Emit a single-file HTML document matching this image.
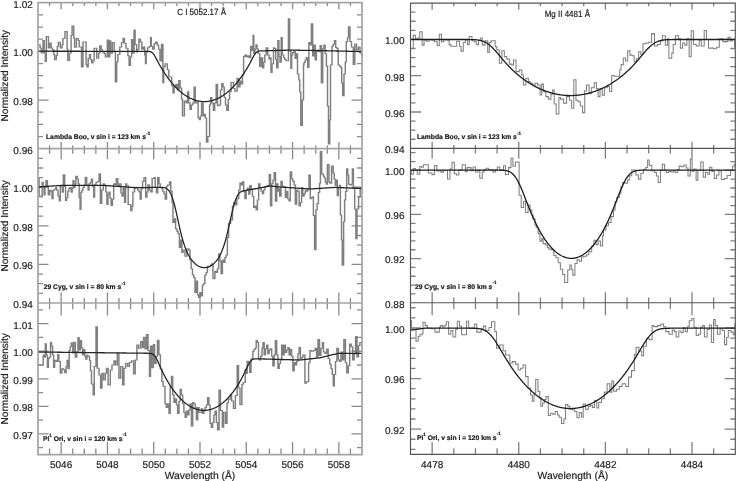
<!DOCTYPE html>
<html><head><meta charset="utf-8"><style>
html,body{margin:0;padding:0;background:#fff;overflow:hidden;}
svg{display:block;will-change:transform;}
text{font-family:"Liberation Sans",sans-serif;fill:#222;text-rendering:geometricPrecision;stroke:#222;stroke-width:0.18px;}
.yl{font-size:10px;text-anchor:end;}
.xl{font-size:10px;text-anchor:middle;}
.xt{font-size:10.3px;text-anchor:middle;}
.yt{font-size:10.1px;text-anchor:middle;}
.ti{font-size:8px;text-anchor:middle;fill:#1a1a1a;}
.sl{font-size:6.75px;font-weight:bold;fill:#111;}
.sup{font-size:4.6px;}
.tL{stroke:#8a8a8a;stroke-width:1.3;fill:none;}
.tR{stroke:#808080;stroke-width:1.3;fill:none;}
.frL{stroke:#a4a4a4;stroke-width:1.7;fill:none;}
.frR{stroke:#555;stroke-width:1.15;fill:none;}
.dL{stroke:#7f7f7f;stroke-width:1.0;fill:none;}
.dR{stroke:#808080;stroke-width:1.05;fill:none;}
.fL{stroke:#262626;stroke-width:1.3;fill:none;stroke-linejoin:round;}
.fR{stroke:#1e1e1e;stroke-width:1.3;fill:none;stroke-linejoin:round;}
</style></head><body>
<svg width="736" height="481" viewBox="0 0 736 481">
<path class="tL" d="M38.0 136.53h5.0M362.0 136.53h-5.0M38.0 124.37h5.0M362.0 124.37h-5.0M38.0 112.20h5.0M362.0 112.20h-5.0M38.0 100.03h10.5M362.0 100.03h-10.5M38.0 87.87h5.0M362.0 87.87h-5.0M38.0 75.70h5.0M362.0 75.70h-5.0M38.0 63.53h5.0M362.0 63.53h-5.0M38.0 51.37h10.5M362.0 51.37h-10.5M38.0 39.20h5.0M362.0 39.20h-5.0M38.0 27.03h5.0M362.0 27.03h-5.0M38.0 14.87h5.0M362.0 14.87h-5.0M49.57 2.7v3.2M49.57 148.7v-3.2M61.14 2.7v6.6M61.14 148.7v-6.6M72.71 2.7v3.2M72.71 148.7v-3.2M84.29 2.7v3.2M84.29 148.7v-3.2M95.86 2.7v3.2M95.86 148.7v-3.2M107.43 2.7v6.6M107.43 148.7v-6.6M119.00 2.7v3.2M119.00 148.7v-3.2M130.57 2.7v3.2M130.57 148.7v-3.2M142.14 2.7v3.2M142.14 148.7v-3.2M153.71 2.7v6.6M153.71 148.7v-6.6M165.29 2.7v3.2M165.29 148.7v-3.2M176.86 2.7v3.2M176.86 148.7v-3.2M188.43 2.7v3.2M188.43 148.7v-3.2M200.00 2.7v6.6M200.00 148.7v-6.6M211.57 2.7v3.2M211.57 148.7v-3.2M223.14 2.7v3.2M223.14 148.7v-3.2M234.71 2.7v3.2M234.71 148.7v-3.2M246.29 2.7v6.6M246.29 148.7v-6.6M257.86 2.7v3.2M257.86 148.7v-3.2M269.43 2.7v3.2M269.43 148.7v-3.2M281.00 2.7v3.2M281.00 148.7v-3.2M292.57 2.7v6.6M292.57 148.7v-6.6M304.14 2.7v3.2M304.14 148.7v-3.2M315.71 2.7v3.2M315.71 148.7v-3.2M327.29 2.7v3.2M327.29 148.7v-3.2M338.86 2.7v6.6M338.86 148.7v-6.6M350.43 2.7v3.2M350.43 148.7v-3.2M38.0 293.36h5.0M362.0 293.36h-5.0M38.0 283.71h5.0M362.0 283.71h-5.0M38.0 274.07h5.0M362.0 274.07h-5.0M38.0 264.43h10.5M362.0 264.43h-10.5M38.0 254.78h5.0M362.0 254.78h-5.0M38.0 245.14h5.0M362.0 245.14h-5.0M38.0 235.49h5.0M362.0 235.49h-5.0M38.0 225.85h10.5M362.0 225.85h-10.5M38.0 216.21h5.0M362.0 216.21h-5.0M38.0 206.56h5.0M362.0 206.56h-5.0M38.0 196.92h5.0M362.0 196.92h-5.0M38.0 187.27h10.5M362.0 187.27h-10.5M38.0 177.63h5.0M362.0 177.63h-5.0M38.0 167.99h5.0M362.0 167.99h-5.0M38.0 158.34h5.0M362.0 158.34h-5.0M49.57 148.7v5.1M49.57 303.0v-5.1M61.14 148.7v10.5M61.14 303.0v-10.5M72.71 148.7v5.1M72.71 303.0v-5.1M84.29 148.7v5.1M84.29 303.0v-5.1M95.86 148.7v5.1M95.86 303.0v-5.1M107.43 148.7v10.5M107.43 303.0v-10.5M119.00 148.7v5.1M119.00 303.0v-5.1M130.57 148.7v5.1M130.57 303.0v-5.1M142.14 148.7v5.1M142.14 303.0v-5.1M153.71 148.7v10.5M153.71 303.0v-10.5M165.29 148.7v5.1M165.29 303.0v-5.1M176.86 148.7v5.1M176.86 303.0v-5.1M188.43 148.7v5.1M188.43 303.0v-5.1M200.00 148.7v10.5M200.00 303.0v-10.5M211.57 148.7v5.1M211.57 303.0v-5.1M223.14 148.7v5.1M223.14 303.0v-5.1M234.71 148.7v5.1M234.71 303.0v-5.1M246.29 148.7v10.5M246.29 303.0v-10.5M257.86 148.7v5.1M257.86 303.0v-5.1M269.43 148.7v5.1M269.43 303.0v-5.1M281.00 148.7v5.1M281.00 303.0v-5.1M292.57 148.7v10.5M292.57 303.0v-10.5M304.14 148.7v5.1M304.14 303.0v-5.1M315.71 148.7v5.1M315.71 303.0v-5.1M327.29 148.7v5.1M327.29 303.0v-5.1M338.86 148.7v10.5M338.86 303.0v-10.5M350.43 148.7v5.1M350.43 303.0v-5.1M38.0 447.71h5.0M362.0 447.71h-5.0M38.0 433.93h10.5M362.0 433.93h-10.5M38.0 420.15h5.0M362.0 420.15h-5.0M38.0 406.36h10.5M362.0 406.36h-10.5M38.0 392.58h5.0M362.0 392.58h-5.0M38.0 378.80h10.5M362.0 378.80h-10.5M38.0 365.02h5.0M362.0 365.02h-5.0M38.0 351.24h10.5M362.0 351.24h-10.5M38.0 337.45h5.0M362.0 337.45h-5.0M38.0 323.67h10.5M362.0 323.67h-10.5M38.0 309.89h5.0M362.0 309.89h-5.0M49.57 303.0v6.2M49.57 454.6v-6.2M61.14 303.0v12.5M61.14 454.6v-12.5M72.71 303.0v6.2M72.71 454.6v-6.2M84.29 303.0v6.2M84.29 454.6v-6.2M95.86 303.0v6.2M95.86 454.6v-6.2M107.43 303.0v12.5M107.43 454.6v-12.5M119.00 303.0v6.2M119.00 454.6v-6.2M130.57 303.0v6.2M130.57 454.6v-6.2M142.14 303.0v6.2M142.14 454.6v-6.2M153.71 303.0v12.5M153.71 454.6v-12.5M165.29 303.0v6.2M165.29 454.6v-6.2M176.86 303.0v6.2M176.86 454.6v-6.2M188.43 303.0v6.2M188.43 454.6v-6.2M200.00 303.0v12.5M200.00 454.6v-12.5M211.57 303.0v6.2M211.57 454.6v-6.2M223.14 303.0v6.2M223.14 454.6v-6.2M234.71 303.0v6.2M234.71 454.6v-6.2M246.29 303.0v12.5M246.29 454.6v-12.5M257.86 303.0v6.2M257.86 454.6v-6.2M269.43 303.0v6.2M269.43 454.6v-6.2M281.00 303.0v6.2M281.00 454.6v-6.2M292.57 303.0v12.5M292.57 454.6v-12.5M304.14 303.0v6.2M304.14 454.6v-6.2M315.71 303.0v6.2M315.71 454.6v-6.2M327.29 303.0v6.2M327.29 454.6v-6.2M338.86 303.0v12.5M338.86 454.6v-12.5M350.43 303.0v6.2M350.43 454.6v-6.2"/>
<path class="tR" d="M410.5 139.23h5.0M735.3 139.23h-5.0M410.5 130.15h5.0M735.3 130.15h-5.0M410.5 121.08h5.0M735.3 121.08h-5.0M410.5 112.00h10.5M735.3 112.00h-10.5M410.5 102.93h5.0M735.3 102.93h-5.0M410.5 93.85h5.0M735.3 93.85h-5.0M410.5 84.78h5.0M735.3 84.78h-5.0M410.5 75.70h10.5M735.3 75.70h-10.5M410.5 66.62h5.0M735.3 66.62h-5.0M410.5 57.55h5.0M735.3 57.55h-5.0M410.5 48.48h5.0M735.3 48.48h-5.0M410.5 39.40h10.5M735.3 39.40h-10.5M410.5 30.33h5.0M735.3 30.33h-5.0M410.5 21.25h5.0M735.3 21.25h-5.0M410.5 12.18h5.0M735.3 12.18h-5.0M432.15 3.1v6.6M432.15 148.3v-6.6M453.81 3.1v3.2M453.81 148.3v-3.2M475.46 3.1v3.2M475.46 148.3v-3.2M497.11 3.1v3.2M497.11 148.3v-3.2M518.77 3.1v6.6M518.77 148.3v-6.6M540.42 3.1v3.2M540.42 148.3v-3.2M562.07 3.1v3.2M562.07 148.3v-3.2M583.73 3.1v3.2M583.73 148.3v-3.2M605.38 3.1v6.6M605.38 148.3v-6.6M627.03 3.1v3.2M627.03 148.3v-3.2M648.69 3.1v3.2M648.69 148.3v-3.2M670.34 3.1v3.2M670.34 148.3v-3.2M691.99 3.1v6.6M691.99 148.3v-6.6M713.65 3.1v3.2M713.65 148.3v-3.2M410.5 293.88h5.0M735.3 293.88h-5.0M410.5 285.05h5.0M735.3 285.05h-5.0M410.5 276.23h5.0M735.3 276.23h-5.0M410.5 267.41h5.0M735.3 267.41h-5.0M410.5 258.59h10.5M735.3 258.59h-10.5M410.5 249.76h5.0M735.3 249.76h-5.0M410.5 240.94h5.0M735.3 240.94h-5.0M410.5 232.12h5.0M735.3 232.12h-5.0M410.5 223.29h5.0M735.3 223.29h-5.0M410.5 214.47h10.5M735.3 214.47h-10.5M410.5 205.65h5.0M735.3 205.65h-5.0M410.5 196.83h5.0M735.3 196.83h-5.0M410.5 188.00h5.0M735.3 188.00h-5.0M410.5 179.18h5.0M735.3 179.18h-5.0M410.5 170.36h10.5M735.3 170.36h-10.5M410.5 161.53h5.0M735.3 161.53h-5.0M410.5 152.71h5.0M735.3 152.71h-5.0M432.15 148.3v10.5M432.15 302.7v-10.5M453.81 148.3v5.1M453.81 302.7v-5.1M475.46 148.3v5.1M475.46 302.7v-5.1M497.11 148.3v5.1M497.11 302.7v-5.1M518.77 148.3v10.5M518.77 302.7v-10.5M540.42 148.3v5.1M540.42 302.7v-5.1M562.07 148.3v5.1M562.07 302.7v-5.1M583.73 148.3v5.1M583.73 302.7v-5.1M605.38 148.3v10.5M605.38 302.7v-10.5M627.03 148.3v5.1M627.03 302.7v-5.1M648.69 148.3v5.1M648.69 302.7v-5.1M670.34 148.3v5.1M670.34 302.7v-5.1M691.99 148.3v10.5M691.99 302.7v-10.5M713.65 148.3v5.1M713.65 302.7v-5.1M410.5 449.34h5.0M735.3 449.34h-5.0M410.5 439.23h5.0M735.3 439.23h-5.0M410.5 429.12h10.5M735.3 429.12h-10.5M410.5 419.00h5.0M735.3 419.00h-5.0M410.5 408.89h5.0M735.3 408.89h-5.0M410.5 398.78h5.0M735.3 398.78h-5.0M410.5 388.66h5.0M735.3 388.66h-5.0M410.5 378.55h10.5M735.3 378.55h-10.5M410.5 368.44h5.0M735.3 368.44h-5.0M410.5 358.32h5.0M735.3 358.32h-5.0M410.5 348.21h5.0M735.3 348.21h-5.0M410.5 338.10h5.0M735.3 338.10h-5.0M410.5 327.98h10.5M735.3 327.98h-10.5M410.5 317.87h5.0M735.3 317.87h-5.0M410.5 307.76h5.0M735.3 307.76h-5.0M432.15 302.7v12.5M432.15 454.4v-12.5M453.81 302.7v6.2M453.81 454.4v-6.2M475.46 302.7v6.2M475.46 454.4v-6.2M497.11 302.7v6.2M497.11 454.4v-6.2M518.77 302.7v12.5M518.77 454.4v-12.5M540.42 302.7v6.2M540.42 454.4v-6.2M562.07 302.7v6.2M562.07 454.4v-6.2M583.73 302.7v6.2M583.73 454.4v-6.2M605.38 302.7v12.5M605.38 454.4v-12.5M627.03 302.7v6.2M627.03 454.4v-6.2M648.69 302.7v6.2M648.69 454.4v-6.2M670.34 302.7v6.2M670.34 454.4v-6.2M691.99 302.7v12.5M691.99 454.4v-12.5M713.65 302.7v6.2M713.65 454.4v-6.2"/>
<polyline transform="scale(1.45,1)" points="26.21,44.8 27.66,44.8 27.66,48.1 28.48,48.1 28.48,53.1 29.66,53.1 29.66,40.6 30.48,40.6 30.48,53.1 31.24,53.1 31.24,61.4 31.93,61.4 31.93,36.5 33.38,36.5 33.38,48.1 34.21,48.1 34.21,43.1 35.24,43.1 35.24,48.1 36.21,48.1 36.21,49.8 37.10,49.8 37.10,54.8 37.66,54.8 37.66,59.7 38.83,59.7 38.83,55.6 39.52,55.6 39.52,46.4 40.28,46.4 40.28,42.3 41.59,42.3 41.59,48.1 42.83,48.1 42.83,44.8 43.38,44.8 43.38,38.5 44.83,38.5 44.83,31.5 46.28,31.5 46.28,48.9 46.76,48.9 46.76,60.6 47.86,60.6 47.86,53.1 49.03,53.1 49.03,35.6 49.72,35.6 49.72,26.1 50.83,26.1 50.83,38.1 51.45,38.1 51.45,47.3 52.69,47.3 52.69,38.5 54.00,38.5 54.00,40.6 54.62,40.6 54.62,46.9 56.21,46.9 56.21,66.9 57.24,66.9 57.24,42.0 59.38,42.0 59.38,64.4 60.00,64.4 60.00,66.9 60.83,66.9 60.83,58.2 61.72,58.2 61.72,54.4 62.41,54.4 62.41,59.4 63.24,59.4 63.24,63.1 64.14,63.1 64.14,60.7 64.97,60.7 64.97,48.2 66.69,48.2 66.69,58.2 68.00,58.2 68.00,53.2 68.83,53.2 68.83,45.7 69.72,45.7 69.72,49.4 70.55,49.4 70.55,51.9 71.86,51.9 71.86,53.8 72.69,53.8 72.69,56.9 74.00,56.9 74.00,40.1 74.83,40.1 74.83,56.9 75.72,56.9 75.72,40.7 76.34,40.7 76.34,53.2 77.45,53.2 77.45,42.6 78.76,42.6 78.76,51.9 79.59,51.9 79.59,81.9 80.48,81.9 80.48,61.9 81.31,61.9 81.31,54.4 82.62,54.4 82.62,46.9 83.86,46.9 83.86,42.6 84.90,42.6 84.90,38.2 85.79,38.2 85.79,43.2 86.90,43.2 86.90,48.2 88.21,48.2 88.21,55.7 89.03,55.7 89.03,65.6 89.93,65.6 89.93,56.9 90.76,56.9 90.76,39.5 91.66,39.5 91.66,53.2 92.48,53.2 92.48,30.1 93.17,30.1 93.17,44.4 94.21,44.4 94.21,51.9 94.83,51.9 94.83,49.3 95.79,49.3 95.79,39.1 96.83,39.1 96.83,42.0 97.79,42.0 97.79,49.3 98.83,49.3 98.83,47.1 99.79,47.1 99.79,55.1 100.34,55.1 100.34,63.8 100.83,63.8 100.83,52.2 101.79,52.2 101.79,47.8 102.83,47.8 102.83,46.4 103.86,46.4 103.86,37.6 104.34,37.6 104.34,46.4 105.31,46.4 105.31,49.3 106.34,49.3 106.34,43.5 107.38,43.5 107.38,42.0 108.34,42.0 108.34,44.9 109.38,44.9 109.38,49.3 110.34,49.3 110.34,60.9 111.38,60.9 111.38,44.2 112.34,44.2 112.34,82.8 112.90,82.8 112.90,66.8 113.86,66.8 113.86,63.8 115.38,63.8 115.38,69.7 116.41,69.7 116.41,77.0 118.41,77.0 118.41,85.7 119.38,85.7 119.38,93.0 120.07,93.0 120.07,85.7 120.90,85.7 120.90,87.1 121.38,87.1 121.38,84.3 122.41,84.3 122.41,89.9 123.31,89.9 123.31,80.6 124.21,80.6 124.21,88.0 125.24,88.0 125.24,99.3 125.86,99.3 125.86,116.1 127.17,116.1 127.17,101.1 128.48,101.1 128.48,103.0 129.38,103.0 129.38,91.8 130.14,91.8 130.14,103.0 131.03,103.0 131.03,109.5 131.93,109.5 131.93,104.9 132.97,104.9 132.97,103.0 133.86,103.0 133.86,87.1 134.69,87.1 134.69,103.0 135.59,103.0 135.59,102.1 136.62,102.1 136.62,117.9 137.52,117.9 137.52,119.8 138.14,119.8 138.14,116.1 139.03,116.1 139.03,103.0 140.07,103.0 140.07,116.1 140.69,116.1 140.69,114.2 141.59,114.2 141.59,117.9 142.41,117.9 142.41,142.2 143.31,142.2 143.31,136.6 144.55,136.6 144.55,104.9 145.24,104.9 145.24,97.4 146.14,97.4 146.14,103.0 147.17,103.0 147.17,110.5 148.07,110.5 148.07,103.0 149.10,103.0 149.10,84.3 150.00,84.3 150.00,105.8 151.03,105.8 151.03,104.9 152.07,104.9 152.07,89.9 152.97,89.9 152.97,83.4 153.86,83.4 153.86,87.1 154.62,87.1 154.62,97.4 155.52,97.4 155.52,104.9 156.41,104.9 156.41,110.5 157.45,110.5 157.45,99.3 158.34,99.3 158.34,91.8 159.38,91.8 159.38,82.4 160.00,82.4 160.00,82.6 161.03,82.6 161.03,88.4 162.00,88.4 162.00,91.3 163.52,91.3 163.52,78.2 164.55,78.2 164.55,87.0 165.52,87.0 165.52,81.1 166.21,81.1 166.21,84.0 167.24,84.0 167.24,75.3 168.00,75.3 168.00,56.4 168.83,56.4 168.83,54.9 169.86,54.9 169.86,57.1 170.83,57.1 170.83,55.7 171.86,55.7 171.86,57.8 172.83,57.8 172.83,46.2 173.59,46.2 173.59,50.6 174.55,50.6 174.55,35.3 175.03,35.3 175.03,53.5 175.86,53.5 175.86,49.1 176.55,49.1 176.55,44.7 177.24,44.7 177.24,49.1 178.07,49.1 178.07,53.5 179.10,53.5 179.10,66.6 180.07,66.6 180.07,57.8 181.10,57.8 181.10,68.0 181.86,68.0 181.86,62.2 182.62,62.2 182.62,54.9 183.59,54.9 183.59,47.7 184.62,47.7 184.62,54.9 185.59,54.9 185.59,59.3 186.28,59.3 186.28,57.8 186.90,57.8 186.90,72.4 187.59,72.4 187.59,63.7 188.62,63.7 188.62,47.7 189.31,47.7 189.31,48.4 190.14,48.4 190.14,59.3 190.83,59.3 190.83,68.0 191.66,68.0 191.66,40.4 192.34,40.4 192.34,56.4 193.10,56.4 193.10,62.2 193.93,62.2 193.93,37.5 194.62,37.5 194.62,54.9 195.66,54.9 195.66,57.8 196.34,57.8 196.34,59.3 197.17,59.3 197.17,60.8 198.90,60.8 198.90,18.7 199.72,18.7 199.72,51.2 200.62,51.2 200.62,68.6 201.17,68.6 201.17,54.9 201.86,54.9 201.86,52.4 202.76,52.4 202.76,51.2 203.59,51.2 203.59,58.6 204.48,58.6 204.48,53.7 205.17,53.7 205.17,74.0 206.07,74.0 206.07,80.0 206.76,80.0 206.76,92.0 207.45,92.0 207.45,125.5 208.48,125.5 208.48,100.0 209.31,100.0 209.31,65.0 209.66,65.0 209.66,62.4 210.48,62.4 210.48,59.9 211.31,59.9 211.31,57.4 212.21,57.4 212.21,67.4 213.03,67.4 213.03,42.4 213.93,42.4 213.93,44.9 214.76,44.9 214.76,23.7 215.66,23.7 215.66,56.1 216.48,56.1 216.48,44.9 217.38,44.9 217.38,59.9 218.21,59.9 218.21,51.2 219.10,51.2 219.10,49.9 219.93,49.9 219.93,51.8 220.83,51.8 220.83,45.5 221.66,45.5 221.66,83.0 222.55,83.0 222.55,48.7 223.38,48.7 223.38,44.9 224.21,44.9 224.21,53.7 225.10,53.7 225.10,66.1 225.86,66.1 225.86,106.0 226.55,106.0 226.55,144.0 227.38,144.0 227.38,120.0 227.93,120.0 227.93,65.0 228.97,65.0 228.97,46.2 229.86,46.2 229.86,44.3 230.69,44.3 230.69,40.6 231.52,40.6 231.52,47.4 232.41,47.4 232.41,48.7 233.24,48.7 233.24,64.9 234.14,64.9 234.14,66.1 234.97,66.1 234.97,67.4 235.66,67.4 235.66,83.0 236.34,83.0 236.34,95.7 237.24,95.7 237.24,74.0 238.14,74.0 238.14,62.0 238.83,62.0 238.83,41.6 239.66,41.6 239.66,38.0 240.34,38.0 240.34,26.8 241.38,26.8 241.38,41.6 242.41,41.6 242.41,47.0 243.66,47.0 243.66,64.6 244.69,64.6 244.69,44.0 245.86,44.0 245.86,49.7 247.10,49.7 247.10,47.0 248.28,47.0 248.28,53.0 249.31,53.0 249.31,55.0 249.66,55.0" class="dL"/>
<polyline points="38.0,51.20 38.5,51.20 39.0,51.20 39.5,51.20 40.0,51.20 40.5,51.20 41.0,51.21 41.5,51.21 42.0,51.21 42.5,51.21 43.0,51.21 43.5,51.21 44.0,51.21 44.5,51.21 45.0,51.21 45.5,51.21 46.0,51.21 46.5,51.22 47.0,51.22 47.5,51.22 48.0,51.22 48.5,51.22 49.0,51.22 49.5,51.22 50.0,51.22 50.5,51.22 51.0,51.22 51.5,51.22 52.0,51.23 52.5,51.23 53.0,51.23 53.5,51.23 54.0,51.23 54.5,51.23 55.0,51.23 55.5,51.23 56.0,51.23 56.5,51.23 57.0,51.23 57.5,51.23 58.0,51.24 58.5,51.24 59.0,51.24 59.5,51.24 60.0,51.24 60.5,51.24 61.0,51.24 61.5,51.24 62.0,51.24 62.5,51.24 63.0,51.24 63.5,51.25 64.0,51.25 64.5,51.25 65.0,51.25 65.5,51.25 66.0,51.25 66.5,51.25 67.0,51.25 67.5,51.25 68.0,51.25 68.5,51.25 69.0,51.26 69.5,51.26 70.0,51.26 70.5,51.26 71.0,51.26 71.5,51.26 72.0,51.26 72.5,51.26 73.0,51.26 73.5,51.26 74.0,51.26 74.5,51.27 75.0,51.27 75.5,51.27 76.0,51.27 76.5,51.27 77.0,51.27 77.5,51.27 78.0,51.27 78.5,51.27 79.0,51.27 79.5,51.27 80.0,51.27 80.5,51.28 81.0,51.28 81.5,51.28 82.0,51.28 82.5,51.28 83.0,51.28 83.5,51.28 84.0,51.28 84.5,51.28 85.0,51.28 85.5,51.28 86.0,51.29 86.5,51.29 87.0,51.29 87.5,51.29 88.0,51.29 88.5,51.29 89.0,51.29 89.5,51.29 90.0,51.29 90.5,51.29 91.0,51.29 91.5,51.30 92.0,51.30 92.5,51.30 93.0,51.30 93.5,51.30 94.0,51.30 94.5,51.30 95.0,51.30 95.5,51.30 96.0,51.30 96.5,51.30 97.0,51.31 97.5,51.31 98.0,51.31 98.5,51.31 99.0,51.31 99.5,51.31 100.0,51.31 100.5,51.31 101.0,51.31 101.5,51.31 102.0,51.31 102.5,51.32 103.0,51.32 103.5,51.32 104.0,51.32 104.5,51.32 105.0,51.32 105.5,51.32 106.0,51.32 106.5,51.32 107.0,51.32 107.5,51.32 108.0,51.33 108.5,51.33 109.0,51.33 109.5,51.33 110.0,51.33 110.5,51.33 111.0,51.33 111.5,51.33 112.0,51.33 112.5,51.33 113.0,51.33 113.5,51.33 114.0,51.34 114.5,51.34 115.0,51.34 115.5,51.34 116.0,51.34 116.5,51.34 117.0,51.34 117.5,51.34 118.0,51.34 118.5,51.34 119.0,51.34 119.5,51.35 120.0,51.35 120.5,51.35 121.0,51.35 121.5,51.35 122.0,51.35 122.5,51.35 123.0,51.35 123.5,51.35 124.0,51.35 124.5,51.35 125.0,51.36 125.5,51.36 126.0,51.36 126.5,51.36 127.0,51.36 127.5,51.36 128.0,51.36 128.5,51.36 129.0,51.36 129.5,51.36 130.0,51.36 130.5,51.37 131.0,51.37 131.5,51.37 132.0,51.37 132.5,51.37 133.0,51.37 133.5,51.37 134.0,51.37 134.5,51.37 135.0,51.37 135.5,51.37 136.0,51.38 136.5,51.38 137.0,51.38 137.5,51.38 138.0,51.38 138.5,51.38 139.0,51.38 139.5,51.38 140.0,51.38 140.5,51.38 141.0,51.38 141.5,51.38 142.0,51.39 142.5,51.39 143.0,51.39 143.5,51.39 144.0,51.39 144.5,51.39 145.0,51.39 145.5,51.39 146.0,51.39 146.5,51.40 147.0,51.40 147.5,51.40 148.0,51.41 148.5,51.43 149.0,51.46 149.5,51.50 150.0,51.58 150.5,51.69 151.0,51.86 151.5,52.10 152.0,52.43 152.5,52.84 153.0,53.36 153.5,53.98 154.0,54.70 154.5,55.49 155.0,56.35 155.5,57.26 156.0,58.20 156.5,59.16 157.0,60.12 157.5,61.08 158.0,62.03 158.5,62.97 159.0,63.89 159.5,64.79 160.0,65.68 160.5,66.55 161.0,67.41 161.5,68.25 162.0,69.08 162.5,69.89 163.0,70.69 163.5,71.48 164.0,72.25 164.5,73.01 165.0,73.76 165.5,74.50 166.0,75.23 166.5,75.94 167.0,76.64 167.5,77.34 168.0,78.02 168.5,78.69 169.0,79.34 169.5,79.99 170.0,80.63 170.5,81.25 171.0,81.87 171.5,82.48 172.0,83.07 172.5,83.66 173.0,84.23 173.5,84.79 174.0,85.35 174.5,85.89 175.0,86.43 175.5,86.95 176.0,87.47 176.5,87.97 177.0,88.47 177.5,88.95 178.0,89.43 178.5,89.90 179.0,90.35 179.5,90.80 180.0,91.24 180.5,91.67 181.0,92.09 181.5,92.50 182.0,92.90 182.5,93.29 183.0,93.67 183.5,94.04 184.0,94.41 184.5,94.76 185.0,95.11 185.5,95.44 186.0,95.77 186.5,96.09 187.0,96.40 187.5,96.70 188.0,96.99 188.5,97.27 189.0,97.55 189.5,97.81 190.0,98.07 190.5,98.31 191.0,98.55 191.5,98.78 192.0,99.00 192.5,99.21 193.0,99.41 193.5,99.60 194.0,99.79 194.5,99.96 195.0,100.13 195.5,100.29 196.0,100.44 196.5,100.58 197.0,100.71 197.5,100.83 198.0,100.94 198.5,101.05 199.0,101.14 199.5,101.23 200.0,101.31 200.5,101.38 201.0,101.44 201.5,101.49 202.0,101.54 202.5,101.57 203.0,101.60 203.5,101.62 204.0,101.63 204.5,101.63 205.0,101.62 205.5,101.60 206.0,101.57 206.5,101.54 207.0,101.50 207.5,101.44 208.0,101.38 208.5,101.31 209.0,101.23 209.5,101.15 210.0,101.05 210.5,100.95 211.0,100.83 211.5,100.71 212.0,100.58 212.5,100.44 213.0,100.29 213.5,100.13 214.0,99.97 214.5,99.79 215.0,99.61 215.5,99.42 216.0,99.21 216.5,99.00 217.0,98.79 217.5,98.56 218.0,98.32 218.5,98.07 219.0,97.82 219.5,97.56 220.0,97.28 220.5,97.00 221.0,96.71 221.5,96.41 222.0,96.10 222.5,95.78 223.0,95.46 223.5,95.12 224.0,94.78 224.5,94.42 225.0,94.06 225.5,93.69 226.0,93.30 226.5,92.91 227.0,92.51 227.5,92.10 228.0,91.68 228.5,91.26 229.0,90.82 229.5,90.37 230.0,89.92 230.5,89.45 231.0,88.97 231.5,88.49 232.0,87.99 232.5,87.49 233.0,86.98 233.5,86.45 234.0,85.92 234.5,85.37 235.0,84.82 235.5,84.26 236.0,83.68 236.5,83.10 237.0,82.50 237.5,81.90 238.0,81.29 238.5,80.66 239.0,80.02 239.5,79.38 240.0,78.72 240.5,78.05 241.0,77.37 241.5,76.68 242.0,75.98 242.5,75.27 243.0,74.54 243.5,73.81 244.0,73.06 244.5,72.30 245.0,71.53 245.5,70.74 246.0,69.94 246.5,69.13 247.0,68.30 247.5,67.46 248.0,66.61 248.5,65.74 249.0,64.86 249.5,63.96 250.0,63.04 250.5,62.11 251.0,61.16 251.5,60.20 252.0,59.24 252.5,58.27 253.0,57.32 253.5,56.39 254.0,55.51 254.5,54.69 255.0,53.94 255.5,53.27 256.0,52.70 256.5,52.23 257.0,51.86 257.5,51.57 258.0,51.36 258.5,51.21 259.0,51.11 259.5,51.04 260.0,51.00 260.5,50.96 261.0,50.94 261.5,50.92 262.0,50.90 262.5,50.89 263.0,50.87 263.5,50.86 264.0,50.84 264.5,50.83 265.0,50.81 265.5,50.80 266.0,50.79 266.5,50.77 267.0,50.76 267.5,50.74 268.0,50.73 268.5,50.71 269.0,50.70 269.5,50.69 270.0,50.67 270.5,50.66 271.0,50.64 271.5,50.63 272.0,50.61 272.5,50.60 273.0,50.59 273.5,50.57 274.0,50.56 274.5,50.54 275.0,50.53 275.5,50.51 276.0,50.50 276.5,50.49 277.0,50.47 277.5,50.46 278.0,50.44 278.5,50.43 279.0,50.41 279.5,50.40 280.0,50.39 280.5,50.37 281.0,50.36 281.5,50.34 282.0,50.33 282.5,50.31 283.0,50.30 283.5,50.29 284.0,50.27 284.5,50.26 285.0,50.24 285.5,50.23 286.0,50.21 286.5,50.20 287.0,50.19 287.5,50.17 288.0,50.16 288.5,50.14 289.0,50.13 289.5,50.11 290.0,50.10 290.5,50.11 291.0,50.12 291.5,50.13 292.0,50.13 292.5,50.14 293.0,50.15 293.5,50.16 294.0,50.17 294.5,50.18 295.0,50.18 295.5,50.19 296.0,50.20 296.5,50.21 297.0,50.22 297.5,50.23 298.0,50.23 298.5,50.24 299.0,50.25 299.5,50.26 300.0,50.27 300.5,50.28 301.0,50.28 301.5,50.29 302.0,50.30 302.5,50.31 303.0,50.32 303.5,50.33 304.0,50.33 304.5,50.34 305.0,50.35 305.5,50.36 306.0,50.37 306.5,50.38 307.0,50.38 307.5,50.39 308.0,50.40 308.5,50.41 309.0,50.42 309.5,50.43 310.0,50.43 310.5,50.44 311.0,50.45 311.5,50.46 312.0,50.47 312.5,50.48 313.0,50.48 313.5,50.49 314.0,50.50 314.5,50.51 315.0,50.52 315.5,50.53 316.0,50.53 316.5,50.54 317.0,50.55 317.5,50.56 318.0,50.57 318.5,50.58 319.0,50.58 319.5,50.59 320.0,50.60 320.5,50.61 321.0,50.62 321.5,50.64 322.0,50.65 322.5,50.66 323.0,50.67 323.5,50.68 324.0,50.70 324.5,50.71 325.0,50.72 325.5,50.73 326.0,50.74 326.5,50.75 327.0,50.77 327.5,50.78 328.0,50.79 328.5,50.80 329.0,50.81 329.5,50.83 330.0,50.84 330.5,50.85 331.0,50.86 331.5,50.87 332.0,50.89 332.5,50.90 333.0,50.91 333.5,50.92 334.0,50.93 334.5,50.95 335.0,50.96 335.5,50.97 336.0,50.98 336.5,50.99 337.0,51.00 337.5,51.02 338.0,51.03 338.5,51.04 339.0,51.05 339.5,51.06 340.0,51.08 340.5,51.09 341.0,51.10 341.5,51.11 342.0,51.12 342.5,51.14 343.0,51.15 343.5,51.16 344.0,51.17 344.5,51.18 345.0,51.20 345.5,51.21 346.0,51.22 346.5,51.23 347.0,51.24 347.5,51.25 348.0,51.27 348.5,51.28 349.0,51.29 349.5,51.30 350.0,51.31 350.5,51.33 351.0,51.34 351.5,51.35 352.0,51.36 352.5,51.37 353.0,51.39 353.5,51.40 354.0,51.41 354.5,51.42 355.0,51.43 355.5,51.45 356.0,51.46 356.5,51.47 357.0,51.48 357.5,51.49 358.0,51.50 358.5,51.52 359.0,51.53 359.5,51.54 360.0,51.55 360.5,51.56 361.0,51.58 361.5,51.59 361.9,51.60" class="fL"/>
<polyline transform="scale(1.45,1)" points="26.21,178.1 26.97,178.1 26.97,195.9 29.10,195.9 29.10,182.3 29.72,182.3 29.72,187.5 30.41,187.5 30.41,195.0 31.03,195.0 31.03,187.5 31.72,187.5 31.72,180.4 32.69,180.4 32.69,186.5 33.31,186.5 33.31,195.0 34.28,195.0 34.28,190.3 35.24,190.3 35.24,191.2 35.86,191.2 35.86,198.7 36.55,198.7 36.55,190.3 37.52,190.3 37.52,189.3 38.48,189.3 38.48,187.5 39.10,187.5 39.10,190.3 40.07,190.3 40.07,195.9 40.90,195.9 40.90,201.0 41.59,201.0 41.59,186.5 42.97,186.5 42.97,192.2 43.66,192.2 43.66,174.8 44.62,174.8 44.62,186.5 45.24,186.5 45.24,200.6 45.93,200.6 45.93,197.8 46.76,197.8 46.76,191.2 47.52,191.2 47.52,188.4 48.14,188.4 48.14,187.5 49.10,187.5 49.10,192.2 49.79,192.2 49.79,188.4 50.41,188.4 50.41,180.4 51.03,180.4 51.03,187.5 51.72,187.5 51.72,183.7 52.34,183.7 52.34,176.2 53.31,176.2 53.31,179.0 54.00,179.0 54.00,183.7 54.62,183.7 54.62,197.8 55.24,197.8 55.24,209.6 55.79,209.6 55.79,192.2 56.55,192.2 56.55,190.3 57.17,190.3 57.17,187.5 58.14,187.5 58.14,185.1 58.83,185.1 58.83,177.2 59.79,177.2 59.79,185.6 60.76,185.6 60.76,190.3 61.38,190.3 61.38,183.7 62.34,183.7 62.34,182.3 63.03,182.3 63.03,179.0 63.79,179.0 63.79,186.5 64.62,186.5 64.62,197.3 65.24,197.3 65.24,184.7 66.21,184.7 66.21,182.3 67.31,182.3 67.31,181.6 68.34,181.6 68.34,173.8 69.24,173.8 69.24,203.5 70.14,203.5 70.14,190.0 71.24,190.0 71.24,183.7 72.07,183.7 72.07,185.8 73.03,185.8 73.03,192.0 73.72,192.0 73.72,204.5 74.48,204.5 74.48,194.1 75.17,194.1 75.17,192.0 75.86,192.0 75.86,198.3 76.62,198.3 76.62,205.5 77.52,205.5 77.52,199.3 78.41,199.3 78.41,183.7 79.10,183.7 79.10,184.8 80.21,184.8 80.21,178.5 81.24,178.5 81.24,185.8 82.34,185.8 82.34,183.7 83.38,183.7 83.38,193.1 84.14,193.1 84.14,196.2 84.97,196.2 84.97,187.9 85.93,187.9 85.93,202.4 86.62,202.4 86.62,183.7 87.38,183.7 87.38,185.8 88.41,185.8 88.41,204.5 89.31,204.5 89.31,204.5 90.21,204.5 90.21,210.7 90.97,210.7 90.97,206.6 91.66,206.6 91.66,192.0 92.76,192.0 92.76,188.4 93.45,188.4 93.45,187.3 94.90,187.3 94.90,190.0 95.93,190.0 95.93,192.0 96.69,192.0 96.69,199.3 97.38,199.3 97.38,188.9 98.34,188.9 98.34,181.6 99.31,181.6 99.31,177.5 100.48,177.5 100.48,197.2 101.31,197.2 101.31,192.0 102.07,192.0 102.07,184.8 102.90,184.8 102.90,190.0 103.86,190.0 103.86,192.0 104.90,192.0 104.90,178.5 106.21,178.5 106.21,177.5 107.03,177.5 107.03,187.5 107.93,187.5 107.93,193.0 108.76,193.0 108.76,177.5 109.66,177.5 109.66,183.7 110.48,183.7 110.48,187.5 111.38,187.5 111.38,188.7 112.21,188.7 112.21,191.2 113.10,191.2 113.10,193.7 113.93,193.7 113.93,199.3 114.83,199.3 114.83,186.2 115.66,186.2 115.66,185.0 116.97,185.0 116.97,181.8 117.79,181.8 117.79,191.2 118.69,191.2 118.69,202.4 119.31,202.4 119.31,222.4 120.28,222.4 120.28,218.7 121.10,218.7 121.10,228.7 122.00,228.7 122.00,231.2 122.83,231.2 122.83,233.7 123.72,233.7 123.72,247.4 124.55,247.4 124.55,240.0 125.45,240.0 125.45,252.5 126.28,252.5 126.28,250.0 127.59,250.0 127.59,256.2 128.90,256.2 128.90,248.7 130.14,248.7 130.14,250.0 131.03,250.0 131.03,260.0 131.86,260.0 131.86,268.7 132.76,268.7 132.76,274.9 133.59,274.9 133.59,277.4 134.48,277.4 134.48,292.4 135.31,292.4 135.31,281.1 136.21,281.1 136.21,294.9 137.03,294.9 137.03,297.4 137.93,297.4 137.93,292.4 138.76,292.4 138.76,296.1 139.59,296.1 139.59,284.9 140.48,284.9 140.48,283.6 141.31,283.6 141.31,274.9 142.21,274.9 142.21,272.4 143.03,272.4 143.03,266.2 144.07,266.2 144.07,266.8 145.17,266.8 145.17,265.0 146.07,265.0 146.07,263.7 146.90,263.7 146.90,278.7 148.21,278.7 148.21,271.2 149.10,271.2 149.10,272.4 149.93,272.4 149.93,268.7 150.83,268.7 150.83,253.7 151.66,253.7 151.66,261.2 152.48,261.2 152.48,273.7 153.38,273.7 153.38,260.0 154.21,260.0 154.21,262.4 155.10,262.4 155.10,257.5 155.93,257.5 155.93,255.0 156.83,255.0 156.83,237.4 157.66,237.4 157.66,223.6 159.03,223.6 159.03,219.9 160.34,219.9 160.34,206.1 161.17,206.1 161.17,202.4 162.48,202.4 162.48,204.9 163.31,204.9 163.31,198.7 164.62,198.7 164.62,189.9 165.52,189.9 165.52,183.1 166.34,183.1 166.34,185.0 167.17,185.0 167.17,181.8 168.07,181.8 168.07,191.8 168.90,191.8 168.90,198.7 169.79,198.7 169.79,189.9 170.62,189.9 170.62,188.1 171.52,188.1 171.52,194.3 172.34,194.3 172.34,185.6 173.24,185.6 173.24,189.3 174.07,189.3 174.07,196.2 174.97,196.2 174.97,207.4 175.79,207.4 175.79,206.1 176.69,206.1 176.69,209.9 177.52,209.9 177.52,199.9 178.41,199.9 178.41,183.7 179.24,183.7 179.24,187.4 180.07,187.4 180.07,191.2 180.97,191.2 180.97,193.7 181.79,193.7 181.79,189.9 182.69,189.9 182.69,186.2 184.34,186.2 184.34,185.6 185.72,185.6 185.72,174.4 186.55,174.4 186.55,206.1 187.38,206.1 187.38,183.7 188.28,183.7 188.28,180.0 189.10,180.0 189.10,172.5 190.00,172.5 190.00,201.2 190.83,201.2 190.83,183.7 191.72,183.7 191.72,191.2 192.07,191.2 192.07,188.7 192.90,188.7 192.90,196.2 193.79,196.2 193.79,181.2 194.62,181.2 194.62,186.2 195.52,186.2 195.52,186.8 196.83,186.8 196.83,197.4 197.66,197.4 197.66,191.2 198.48,191.2 198.48,198.7 199.38,198.7 199.38,201.1 200.21,201.1 200.21,171.8 201.10,171.8 201.10,178.7 201.93,178.7 201.93,181.2 202.83,181.2 202.83,185.0 203.66,185.0 203.66,204.3 204.55,204.3 204.55,190.0 205.38,190.0 205.38,191.2 206.28,191.2 206.28,206.1 207.10,206.1 207.10,202.4 208.00,202.4 208.00,187.4 208.83,187.4 208.83,196.2 209.72,196.2 209.72,193.7 210.55,193.7 210.55,190.6 211.45,190.6 211.45,191.2 212.28,191.2 212.28,188.7 213.10,188.7 213.10,175.0 214.00,175.0 214.00,198.7 214.83,198.7 214.83,197.4 215.59,197.4 215.59,196.7 216.14,196.7 216.14,215.4 216.97,215.4 216.97,249.7 217.86,249.7 217.86,209.9 218.69,209.9 218.69,203.6 219.59,203.6 219.59,192.4 220.41,192.4 220.41,183.3 220.97,183.3 220.97,151.6 221.86,151.6 221.86,173.9 222.97,173.9 222.97,176.0 223.66,176.0 223.66,178.0 224.41,178.0 224.41,182.2 225.10,182.2 225.10,184.3 225.79,184.3 225.79,164.6 226.90,164.6 226.90,182.0 227.59,182.0 227.59,183.3 228.69,183.3 228.69,166.1 229.79,166.1 229.79,172.9 230.48,172.9 230.48,179.1 231.17,179.1 231.17,185.3 231.93,185.3 231.93,180.1 232.62,180.1 232.62,195.7 233.31,195.7 233.31,187.4 234.07,187.4 234.07,185.3 234.76,185.3 234.76,215.0 235.52,215.0 235.52,240.0 236.07,240.0 236.07,265.3 236.97,265.3 236.97,221.7 237.66,221.7 237.66,200.0 238.34,200.0 238.34,191.6 239.10,191.6 239.10,168.7 239.79,168.7 239.79,175.0 240.48,175.0 240.48,184.3 241.24,184.3 241.24,185.0 242.21,185.0 242.21,184.3 243.03,184.3 243.03,168.7 243.72,168.7 243.72,188.5 244.62,188.5 244.62,209.0 245.45,209.0 245.45,238.8 246.21,238.8 246.21,209.0 247.31,209.0 247.31,196.8 248.41,196.8 248.41,188.5 249.66,188.5" class="dL"/>
<polyline points="38.0,186.90 38.5,186.87 39.0,186.84 39.5,186.81 40.0,186.78 40.5,186.74 41.0,186.71 41.5,186.68 42.0,186.65 42.5,186.62 43.0,186.59 43.5,186.56 44.0,186.53 44.5,186.49 45.0,186.46 45.5,186.43 46.0,186.40 46.5,186.37 47.0,186.34 47.5,186.31 48.0,186.28 48.5,186.24 49.0,186.21 49.5,186.18 50.0,186.15 50.5,186.12 51.0,186.09 51.5,186.06 52.0,186.03 52.5,185.99 53.0,185.96 53.5,185.93 54.0,185.90 54.5,185.87 55.0,185.84 55.5,185.81 56.0,185.78 56.5,185.74 57.0,185.71 57.5,185.68 58.0,185.65 58.5,185.62 59.0,185.59 59.5,185.56 60.0,185.53 60.5,185.49 61.0,185.46 61.5,185.43 62.0,185.40 62.5,185.40 63.0,185.40 63.5,185.40 64.0,185.40 64.5,185.39 65.0,185.39 65.5,185.39 66.0,185.39 66.5,185.39 67.0,185.39 67.5,185.39 68.0,185.39 68.5,185.38 69.0,185.38 69.5,185.38 70.0,185.38 70.5,185.38 71.0,185.38 71.5,185.38 72.0,185.38 72.5,185.37 73.0,185.37 73.5,185.37 74.0,185.37 74.5,185.37 75.0,185.37 75.5,185.37 76.0,185.37 76.5,185.36 77.0,185.36 77.5,185.36 78.0,185.36 78.5,185.36 79.0,185.36 79.5,185.36 80.0,185.36 80.5,185.35 81.0,185.35 81.5,185.35 82.0,185.35 82.5,185.35 83.0,185.35 83.5,185.35 84.0,185.35 84.5,185.35 85.0,185.34 85.5,185.34 86.0,185.34 86.5,185.34 87.0,185.34 87.5,185.34 88.0,185.34 88.5,185.34 89.0,185.33 89.5,185.33 90.0,185.33 90.5,185.33 91.0,185.33 91.5,185.33 92.0,185.33 92.5,185.33 93.0,185.32 93.5,185.32 94.0,185.32 94.5,185.32 95.0,185.32 95.5,185.32 96.0,185.32 96.5,185.32 97.0,185.31 97.5,185.31 98.0,185.31 98.5,185.31 99.0,185.31 99.5,185.31 100.0,185.31 100.5,185.31 101.0,185.30 101.5,185.30 102.0,185.30 102.5,185.30 103.0,185.30 103.5,185.34 104.0,185.37 104.5,185.41 105.0,185.45 105.5,185.48 106.0,185.52 106.5,185.55 107.0,185.59 107.5,185.63 108.0,185.66 108.5,185.70 109.0,185.74 109.5,185.77 110.0,185.81 110.5,185.85 111.0,185.88 111.5,185.92 112.0,185.95 112.5,185.99 113.0,186.03 113.5,186.06 114.0,186.10 114.5,186.14 115.0,186.17 115.5,186.21 116.0,186.25 116.5,186.28 117.0,186.32 117.5,186.35 118.0,186.39 118.5,186.43 119.0,186.46 119.5,186.50 120.0,186.54 120.5,186.57 121.0,186.61 121.5,186.65 122.0,186.68 122.5,186.72 123.0,186.75 123.5,186.79 124.0,186.83 124.5,186.86 125.0,186.90 125.5,186.94 126.0,186.97 126.5,187.01 127.0,187.05 127.5,187.08 128.0,187.12 128.5,187.15 129.0,187.19 129.5,187.23 130.0,187.26 130.5,187.30 131.0,187.34 131.5,187.37 132.0,187.41 132.5,187.45 133.0,187.48 133.5,187.52 134.0,187.55 134.5,187.59 135.0,187.63 135.5,187.66 136.0,187.70 136.5,187.69 137.0,187.69 137.5,187.68 138.0,187.67 138.5,187.67 139.0,187.66 139.5,187.65 140.0,187.64 140.5,187.64 141.0,187.63 141.5,187.62 142.0,187.62 142.5,187.61 143.0,187.60 143.5,187.60 144.0,187.59 144.5,187.58 145.0,187.58 145.5,187.57 146.0,187.56 146.5,187.56 147.0,187.55 147.5,187.54 148.0,187.53 148.5,187.53 149.0,187.52 149.5,187.51 150.0,187.51 150.5,187.50 151.0,187.49 151.5,187.49 152.0,187.48 152.5,187.47 153.0,187.47 153.5,187.46 154.0,187.45 154.5,187.44 155.0,187.44 155.5,187.43 156.0,187.42 156.5,187.42 157.0,187.41 157.5,187.41 158.0,187.40 158.5,187.40 159.0,187.39 159.5,187.39 160.0,187.39 160.5,187.39 161.0,187.40 161.5,187.41 162.0,187.43 162.5,187.46 163.0,187.50 163.5,187.55 164.0,187.62 164.5,187.71 165.0,187.82 165.5,188.00 166.0,188.22 166.5,188.49 167.0,188.81 167.5,189.19 168.0,189.64 168.5,190.16 169.0,190.78 169.5,191.49 170.0,192.30 170.5,193.23 171.0,194.27 171.5,195.44 172.0,196.73 172.5,198.15 173.0,199.70 173.5,201.36 174.0,203.14 174.5,205.04 175.0,207.02 175.5,209.10 176.0,211.25 176.5,213.46 177.0,215.71 177.5,217.99 178.0,220.27 178.5,222.56 179.0,224.82 179.5,227.05 180.0,229.23 180.5,231.36 181.0,233.42 181.5,235.41 182.0,237.32 182.5,239.15 183.0,240.89 183.5,242.55 184.0,244.13 184.5,245.63 185.0,247.04 185.5,248.38 186.0,249.64 186.5,250.83 187.0,251.96 187.5,253.02 188.0,254.03 188.5,254.98 189.0,255.88 189.5,256.73 190.0,257.54 190.5,258.30 191.0,259.02 191.5,259.71 192.0,260.35 192.5,260.97 193.0,261.55 193.5,262.10 194.0,262.61 194.5,263.10 195.0,263.56 195.5,264.00 196.0,264.40 196.5,264.78 197.0,265.13 197.5,265.46 198.0,265.77 198.5,266.05 199.0,266.31 199.5,266.54 200.0,266.75 200.5,266.94 201.0,267.10 201.5,267.24 202.0,267.37 202.5,267.46 203.0,267.54 203.5,267.59 204.0,267.63 204.5,267.64 205.0,267.63 205.5,267.59 206.0,267.53 206.5,267.45 207.0,267.35 207.5,267.22 208.0,267.08 208.5,266.90 209.0,266.71 209.5,266.49 210.0,266.25 210.5,265.99 211.0,265.70 211.5,265.38 212.0,265.04 212.5,264.67 213.0,264.27 213.5,263.85 214.0,263.40 214.5,262.92 215.0,262.40 215.5,261.86 216.0,261.28 216.5,260.66 217.0,260.01 217.5,259.32 218.0,258.58 218.5,257.80 219.0,256.98 219.5,256.10 220.0,255.17 220.5,254.19 221.0,253.14 221.5,252.03 222.0,250.85 222.5,249.60 223.0,248.27 223.5,246.87 224.0,245.38 224.5,243.81 225.0,242.15 225.5,240.39 226.0,238.54 226.5,236.61 227.0,234.61 227.5,232.54 228.0,230.41 228.5,228.22 229.0,226.00 229.5,223.75 230.0,221.49 230.5,219.24 231.0,217.00 231.5,214.80 232.0,212.65 232.5,210.57 233.0,208.56 233.5,206.66 234.0,204.85 234.5,203.16 235.0,201.59 235.5,200.14 236.0,198.82 236.5,197.63 237.0,196.56 237.5,195.61 238.0,194.77 238.5,194.05 239.0,193.42 239.5,192.88 240.0,192.43 240.5,192.05 241.0,191.73 241.5,191.47 242.0,191.26 242.5,191.09 243.0,190.95 243.5,190.84 244.0,190.76 244.5,190.69 245.0,190.64 245.5,190.52 246.0,190.41 246.5,190.30 247.0,190.20 247.5,190.11 248.0,190.02 248.5,189.93 249.0,189.84 249.5,189.76 250.0,189.67 250.5,189.59 251.0,189.50 251.5,189.42 252.0,189.33 252.5,189.25 253.0,189.17 253.5,189.08 254.0,189.00 254.5,188.92 255.0,188.83 255.5,188.75 256.0,188.67 256.5,188.58 257.0,188.50 257.5,188.40 258.0,188.31 258.5,188.21 259.0,188.12 259.5,188.02 260.0,187.92 260.5,187.83 261.0,187.73 261.5,187.63 262.0,187.54 262.5,187.44 263.0,187.35 263.5,187.25 264.0,187.15 264.5,187.06 265.0,186.96 265.5,186.87 266.0,186.77 266.5,186.67 267.0,186.58 267.5,186.48 268.0,186.38 268.5,186.29 269.0,186.19 269.5,186.10 270.0,186.00 270.5,186.05 271.0,186.10 271.5,186.15 272.0,186.20 272.5,186.25 273.0,186.30 273.5,186.35 274.0,186.40 274.5,186.45 275.0,186.50 275.5,186.55 276.0,186.60 276.5,186.65 277.0,186.70 277.5,186.75 278.0,186.80 278.5,186.85 279.0,186.90 279.5,186.95 280.0,187.00 280.5,187.03 281.0,187.07 281.5,187.10 282.0,187.13 282.5,187.17 283.0,187.20 283.5,187.23 284.0,187.27 284.5,187.30 285.0,187.33 285.5,187.37 286.0,187.40 286.5,187.43 287.0,187.47 287.5,187.50 288.0,187.53 288.5,187.57 289.0,187.60 289.5,187.63 290.0,187.67 290.5,187.70 291.0,187.73 291.5,187.77 292.0,187.80 292.5,187.83 293.0,187.87 293.5,187.90 294.0,187.93 294.5,187.97 295.0,188.00 295.5,188.03 296.0,188.07 296.5,188.10 297.0,188.13 297.5,188.17 298.0,188.20 298.5,188.23 299.0,188.27 299.5,188.30 300.0,188.33 300.5,188.37 301.0,188.40 301.5,188.43 302.0,188.47 302.5,188.50 303.0,188.53 303.5,188.57 304.0,188.60 304.5,188.63 305.0,188.67 305.5,188.70 306.0,188.73 306.5,188.77 307.0,188.80 307.5,188.83 308.0,188.87 308.5,188.90 309.0,188.93 309.5,188.97 310.0,189.00 310.5,188.97 311.0,188.94 311.5,188.90 312.0,188.87 312.5,188.84 313.0,188.81 313.5,188.78 314.0,188.74 314.5,188.71 315.0,188.68 315.5,188.65 316.0,188.62 316.5,188.58 317.0,188.55 317.5,188.52 318.0,188.49 318.5,188.46 319.0,188.42 319.5,188.39 320.0,188.36 320.5,188.33 321.0,188.30 321.5,188.26 322.0,188.23 322.5,188.20 323.0,188.17 323.5,188.14 324.0,188.10 324.5,188.07 325.0,188.04 325.5,188.01 326.0,187.98 326.5,187.94 327.0,187.91 327.5,187.88 328.0,187.85 328.5,187.82 329.0,187.78 329.5,187.75 330.0,187.72 330.5,187.69 331.0,187.66 331.5,187.62 332.0,187.59 332.5,187.56 333.0,187.53 333.5,187.50 334.0,187.46 334.5,187.43 335.0,187.40 335.5,187.42 336.0,187.44 336.5,187.46 337.0,187.48 337.5,187.50 338.0,187.52 338.5,187.54 339.0,187.56 339.5,187.58 340.0,187.60 340.5,187.62 341.0,187.64 341.5,187.66 342.0,187.69 342.5,187.71 343.0,187.73 343.5,187.75 344.0,187.77 344.5,187.79 345.0,187.81 345.5,187.83 346.0,187.85 346.5,187.87 347.0,187.89 347.5,187.91 348.0,187.93 348.5,187.95 349.0,187.97 349.5,187.99 350.0,188.01 350.5,188.03 351.0,188.05 351.5,188.07 352.0,188.09 352.5,188.11 353.0,188.13 353.5,188.15 354.0,188.17 354.5,188.19 355.0,188.21 355.5,188.24 356.0,188.26 356.5,188.28 357.0,188.30 357.5,188.32 358.0,188.34 358.5,188.36 359.0,188.38 359.5,188.40 360.0,188.42 360.5,188.44 361.0,188.46 361.5,188.48 361.9,188.50" class="fL"/>
<polyline transform="scale(1.45,1)" points="26.21,365.0 29.79,365.0 29.79,355.1 30.48,355.1 30.48,357.2 31.24,357.2 31.24,343.7 31.93,343.7 31.93,355.1 32.69,355.1 32.69,367.6 33.38,367.6 33.38,358.3 34.07,358.3 34.07,357.2 34.83,357.2 34.83,342.2 35.52,342.2 35.52,346.3 36.28,346.3 36.28,355.1 36.97,355.1 36.97,367.6 37.66,367.6 37.66,360.3 38.76,360.3 38.76,361.4 39.86,361.4 39.86,354.6 40.55,354.6 40.55,361.4 41.59,361.4 41.59,373.3 42.69,373.3 42.69,368.7 43.79,368.7 43.79,369.7 44.69,369.7 44.69,372.8 45.59,372.8 45.59,366.6 46.28,366.6 46.28,360.3 46.97,360.3 46.97,368.7 47.72,368.7 47.72,350.5 48.41,350.5 48.41,346.8 49.17,346.8 49.17,342.7 50.21,342.7 50.21,353.1 50.90,353.1 50.90,342.2 52.00,342.2 52.00,357.2 52.90,357.2 52.90,352.0 53.79,352.0 53.79,337.5 54.55,337.5 54.55,350.0 55.45,350.0 55.45,340.6 56.21,340.6 56.21,347.9 57.03,347.9 57.03,355.1 57.72,355.1 57.72,349.4 58.48,349.4 58.48,356.2 59.17,356.2 59.17,359.3 59.93,359.3 59.93,355.1 60.62,355.1 60.62,356.2 61.72,356.2 61.72,360.3 62.41,360.3 62.41,370.7 63.10,370.7 63.10,384.0 64.28,384.0 64.28,394.9 65.03,394.9 65.03,366.6 66.21,366.6 66.21,326.7 67.10,326.7 67.10,368.3 68.28,368.3 68.28,374.9 69.38,374.9 69.38,388.2 70.34,388.2 70.34,373.2 71.45,373.2 71.45,380.0 72.62,380.0 72.62,373.2 73.45,373.2 73.45,368.3 74.55,368.3 74.55,384.9 76.07,384.9 76.07,369.9 77.24,369.9 77.24,364.9 78.62,364.9 78.62,360.8 79.72,360.8 79.72,364.9 80.90,364.9 80.90,353.3 82.00,353.3 82.00,378.2 83.17,378.2 83.17,366.6 84.55,366.6 84.55,384.9 85.45,384.9 85.45,368.3 86.62,368.3 86.62,363.3 88.00,363.3 88.00,366.6 89.17,366.6 89.17,362.4 90.62,362.4 90.62,360.8 92.14,360.8 92.14,374.1 93.24,374.1 93.24,359.9 94.41,359.9 94.41,345.0 95.59,345.0 95.59,348.3 96.97,348.3 96.97,341.6 98.07,341.6 98.07,347.5 99.03,347.5 99.03,337.3 100.07,337.3 100.07,348.9 101.10,348.9 101.10,334.4 102.07,334.4 102.07,350.4 103.10,350.4 103.10,376.6 103.79,376.6 103.79,346.0 104.76,346.0 104.76,367.8 105.79,367.8 105.79,344.6 106.62,344.6 106.62,363.5 107.59,363.5 107.59,356.2 108.62,356.2 108.62,340.2 109.59,340.2 109.59,354.7 110.62,354.7 110.62,369.3 111.66,369.3 111.66,381.2 112.48,381.2 112.48,386.2 113.79,386.2 113.79,403.7 114.62,403.7 114.62,407.4 115.66,407.4 115.66,403.7 116.55,403.7 116.55,413.6 117.38,413.6 117.38,386.2 118.28,386.2 118.28,376.2 119.10,376.2 119.10,394.9 120.00,394.9 120.00,402.4 120.83,402.4 120.83,398.7 121.72,398.7 121.72,404.9 122.55,404.9 122.55,413.6 123.45,413.6 123.45,401.2 124.28,401.2 124.28,389.3 125.10,389.3 125.10,394.9 126.00,394.9 126.00,403.7 126.83,403.7 126.83,412.4 127.72,412.4 127.72,417.4 128.55,417.4 128.55,411.1 129.45,411.1 129.45,414.9 130.28,414.9 130.28,409.9 131.17,409.9 131.17,403.7 132.00,403.7 132.00,426.1 132.90,426.1 132.90,402.4 133.72,402.4 133.72,403.7 134.62,403.7 134.62,407.4 135.45,407.4 135.45,419.9 136.34,419.9 136.34,407.4 137.17,407.4 137.17,412.4 138.00,412.4 138.00,412.4 138.90,412.4 138.90,408.7 139.72,408.7 139.72,413.6 140.62,413.6 140.62,411.1 141.45,411.1 141.45,407.4 142.34,407.4 142.34,404.9 143.17,404.9 143.17,397.4 144.07,397.4 144.07,404.9 144.90,404.9 144.90,423.6 145.79,423.6 145.79,427.4 146.62,427.4 146.62,422.4 147.52,422.4 147.52,414.9 148.34,414.9 148.34,411.1 149.24,411.1 149.24,422.4 150.07,422.4 150.07,430.0 151.10,430.0 151.10,389.9 152.00,389.9 152.00,410.4 153.31,410.4 153.31,427.2 154.21,427.2 154.21,412.3 155.52,412.3 155.52,423.5 156.55,423.5 156.55,403.0 157.52,403.0 157.52,399.2 158.83,399.2 158.83,394.5 159.72,394.5 159.72,401.0 161.03,401.0 161.03,408.6 162.34,408.6 162.34,395.5 163.59,395.5 163.59,365.6 164.48,365.6 164.48,388.0 165.52,388.0 165.52,404.8 166.83,404.8 166.83,384.3 167.86,384.3 167.86,382.4 169.17,382.4 169.17,369.3 169.66,369.3 169.66,373.6 170.48,373.6 170.48,361.2 171.38,361.2 171.38,362.4 172.21,362.4 172.21,372.4 173.10,372.4 173.10,358.7 174.41,358.7 174.41,351.2 175.24,351.2 175.24,349.3 176.14,349.3 176.14,348.1 176.69,348.1 176.69,340.6 177.59,340.6 177.59,342.5 178.28,342.5 178.28,358.7 178.97,358.7 178.97,359.9 179.79,359.9 179.79,356.2 180.69,356.2 180.69,348.1 181.38,348.1 181.38,342.5 182.21,342.5 182.21,354.9 183.10,354.9 183.10,348.7 183.93,348.7 183.93,345.0 184.76,345.0 184.76,353.7 185.66,353.7 185.66,350.0 186.48,350.0 186.48,348.7 187.38,348.7 187.38,356.2 188.21,356.2 188.21,366.1 189.10,366.1 189.10,354.9 189.93,354.9 189.93,340.6 190.83,340.6 190.83,354.9 191.66,354.9 191.66,368.6 192.55,368.6 192.55,363.7 193.38,363.7 193.38,359.9 194.28,359.9 194.28,345.0 195.10,345.0 195.10,354.9 196.00,354.9 196.00,345.0 196.83,345.0 196.83,352.4 197.66,352.4 197.66,350.0 198.55,350.0 198.55,347.4 199.38,347.4 199.38,354.9 200.28,354.9 200.28,349.3 201.10,349.3 201.10,356.2 202.00,356.2 202.00,371.1 202.83,371.1 202.83,362.4 203.72,362.4 203.72,364.9 204.55,364.9 204.55,361.2 205.45,361.2 205.45,353.7 206.28,353.7 206.28,347.4 207.17,347.4 207.17,358.7 208.00,358.7 208.00,357.4 208.90,357.4 208.90,354.9 210.28,354.9 210.28,383.2 211.31,383.2 211.31,381.8 212.83,381.8 212.83,362.8 213.79,362.8 213.79,350.5 214.83,350.5 214.83,351.2 216.28,351.2 216.28,350.5 217.31,350.5 217.31,348.3 218.34,348.3 218.34,357.0 219.31,357.0 219.31,339.6 220.34,339.6 220.34,355.6 221.31,355.6 221.31,348.3 222.34,348.3 222.34,342.5 223.10,342.5 223.10,351.9 224.14,351.9 224.14,353.4 225.31,353.4 225.31,349.0 226.34,349.0 226.34,358.5 227.38,358.5 227.38,364.3 228.34,364.3 228.34,368.7 229.17,368.7 229.17,374.5 229.86,374.5 229.86,386.1 230.55,386.1 230.55,374.5 231.38,374.5 231.38,361.4 232.34,361.4 232.34,348.3 233.38,348.3 233.38,359.9 234.21,359.9 234.21,361.4 235.17,361.4 235.17,351.9 236.21,351.9 236.21,359.9 237.17,359.9 237.17,339.6 238.21,339.6 238.21,362.8 239.17,362.8 239.17,373.0 240.21,373.0 240.21,365.8 241.17,365.8 241.17,343.9 242.21,343.9 242.21,346.8 243.24,346.8 243.24,359.9 244.21,359.9 244.21,354.1 245.24,354.1 245.24,336.6 246.21,336.6 246.21,357.0 247.24,357.0 247.24,345.4 248.21,345.4 248.21,342.5 249.66,342.5" class="dL"/>
<polyline points="38.0,352.00 38.5,352.01 39.0,352.01 39.5,352.02 40.0,352.02 40.5,352.03 41.0,352.03 41.5,352.04 42.0,352.05 42.5,352.05 43.0,352.06 43.5,352.06 44.0,352.07 44.5,352.08 45.0,352.08 45.5,352.09 46.0,352.09 46.5,352.10 47.0,352.10 47.5,352.11 48.0,352.12 48.5,352.12 49.0,352.13 49.5,352.13 50.0,352.14 50.5,352.15 51.0,352.15 51.5,352.16 52.0,352.16 52.5,352.17 53.0,352.17 53.5,352.18 54.0,352.19 54.5,352.19 55.0,352.20 55.5,352.20 56.0,352.21 56.5,352.21 57.0,352.22 57.5,352.23 58.0,352.23 58.5,352.24 59.0,352.24 59.5,352.25 60.0,352.26 60.5,352.26 61.0,352.27 61.5,352.27 62.0,352.28 62.5,352.28 63.0,352.29 63.5,352.30 64.0,352.30 64.5,352.31 65.0,352.31 65.5,352.32 66.0,352.32 66.5,352.33 67.0,352.34 67.5,352.34 68.0,352.35 68.5,352.35 69.0,352.36 69.5,352.37 70.0,352.37 70.5,352.38 71.0,352.38 71.5,352.39 72.0,352.39 72.5,352.40 73.0,352.41 73.5,352.41 74.0,352.42 74.5,352.42 75.0,352.43 75.5,352.44 76.0,352.44 76.5,352.45 77.0,352.45 77.5,352.46 78.0,352.46 78.5,352.47 79.0,352.48 79.5,352.48 80.0,352.49 80.5,352.49 81.0,352.50 81.5,352.50 82.0,352.51 82.5,352.52 83.0,352.52 83.5,352.53 84.0,352.53 84.5,352.54 85.0,352.55 85.5,352.55 86.0,352.56 86.5,352.56 87.0,352.57 87.5,352.57 88.0,352.58 88.5,352.59 89.0,352.59 89.5,352.60 90.0,352.60 90.5,352.61 91.0,352.62 91.5,352.62 92.0,352.63 92.5,352.63 93.0,352.64 93.5,352.64 94.0,352.65 94.5,352.66 95.0,352.66 95.5,352.67 96.0,352.67 96.5,352.68 97.0,352.68 97.5,352.69 98.0,352.70 98.5,352.70 99.0,352.71 99.5,352.71 100.0,352.72 100.5,352.73 101.0,352.73 101.5,352.74 102.0,352.74 102.5,352.75 103.0,352.75 103.5,352.76 104.0,352.77 104.5,352.77 105.0,352.78 105.5,352.78 106.0,352.79 106.5,352.80 107.0,352.80 107.5,352.81 108.0,352.81 108.5,352.82 109.0,352.82 109.5,352.83 110.0,352.84 110.5,352.84 111.0,352.85 111.5,352.85 112.0,352.86 112.5,352.86 113.0,352.87 113.5,352.88 114.0,352.88 114.5,352.89 115.0,352.89 115.5,352.90 116.0,352.91 116.5,352.91 117.0,352.92 117.5,352.92 118.0,352.93 118.5,352.93 119.0,352.94 119.5,352.95 120.0,352.95 120.5,352.96 121.0,352.96 121.5,352.97 122.0,352.98 122.5,352.98 123.0,352.99 123.5,352.99 124.0,353.00 124.5,353.00 125.0,353.01 125.5,353.02 126.0,353.02 126.5,353.03 127.0,353.03 127.5,353.04 128.0,353.04 128.5,353.05 129.0,353.06 129.5,353.06 130.0,353.07 130.5,353.07 131.0,353.08 131.5,353.09 132.0,353.09 132.5,353.10 133.0,353.10 133.5,353.11 134.0,353.11 134.5,353.12 135.0,353.13 135.5,353.13 136.0,353.14 136.5,353.14 137.0,353.15 137.5,353.15 138.0,353.16 138.5,353.17 139.0,353.17 139.5,353.18 140.0,353.18 140.5,353.19 141.0,353.20 141.5,353.20 142.0,353.21 142.5,353.21 143.0,353.22 143.5,353.22 144.0,353.23 144.5,353.24 145.0,353.24 145.5,353.25 146.0,353.25 146.5,353.26 147.0,353.27 147.5,353.28 148.0,353.28 148.5,353.30 149.0,353.31 149.5,353.34 150.0,353.38 150.5,353.45 151.0,353.54 151.5,353.67 152.0,353.84 152.5,354.06 153.0,354.35 153.5,354.71 154.0,355.16 154.5,355.70 155.0,356.34 155.5,357.07 156.0,357.89 156.5,358.79 157.0,359.77 157.5,360.80 158.0,361.88 158.5,362.99 159.0,364.11 159.5,365.24 160.0,366.37 160.5,367.49 161.0,368.60 161.5,369.68 162.0,370.75 162.5,371.80 163.0,372.82 163.5,373.83 164.0,374.81 164.5,375.78 165.0,376.72 165.5,377.65 166.0,378.56 166.5,379.46 167.0,380.33 167.5,381.19 168.0,382.04 168.5,382.87 169.0,383.68 169.5,384.48 170.0,385.27 170.5,386.04 171.0,386.79 171.5,387.53 172.0,388.26 172.5,388.98 173.0,389.68 173.5,390.37 174.0,391.04 174.5,391.70 175.0,392.35 175.5,392.99 176.0,393.61 176.5,394.22 177.0,394.82 177.5,395.41 178.0,395.98 178.5,396.55 179.0,397.10 179.5,397.63 180.0,398.16 180.5,398.68 181.0,399.18 181.5,399.67 182.0,400.15 182.5,400.62 183.0,401.07 183.5,401.52 184.0,401.95 184.5,402.38 185.0,402.79 185.5,403.19 186.0,403.58 186.5,403.95 187.0,404.32 187.5,404.68 188.0,405.02 188.5,405.35 189.0,405.68 189.5,405.99 190.0,406.29 190.5,406.58 191.0,406.86 191.5,407.13 192.0,407.38 192.5,407.63 193.0,407.87 193.5,408.09 194.0,408.30 194.5,408.51 195.0,408.70 195.5,408.88 196.0,409.05 196.5,409.22 197.0,409.37 197.5,409.51 198.0,409.63 198.5,409.75 199.0,409.86 199.5,409.96 200.0,410.04 200.5,410.12 201.0,410.19 201.5,410.24 202.0,410.29 202.5,410.32 203.0,410.34 203.5,410.36 204.0,410.36 204.5,410.35 205.0,410.33 205.5,410.31 206.0,410.27 206.5,410.22 207.0,410.17 207.5,410.10 208.0,410.02 208.5,409.93 209.0,409.83 209.5,409.72 210.0,409.60 210.5,409.47 211.0,409.33 211.5,409.18 212.0,409.01 212.5,408.84 213.0,408.65 213.5,408.46 214.0,408.25 214.5,408.03 215.0,407.81 215.5,407.57 216.0,407.32 216.5,407.06 217.0,406.78 217.5,406.50 218.0,406.21 218.5,405.90 219.0,405.59 219.5,405.26 220.0,404.92 220.5,404.57 221.0,404.21 221.5,403.84 222.0,403.46 222.5,403.06 223.0,402.66 223.5,402.24 224.0,401.81 224.5,401.37 225.0,400.92 225.5,400.45 226.0,399.98 226.5,399.49 227.0,398.99 227.5,398.48 228.0,397.95 228.5,397.42 229.0,396.87 229.5,396.31 230.0,395.74 230.5,395.15 231.0,394.55 231.5,393.94 232.0,393.32 232.5,392.68 233.0,392.03 233.5,391.36 234.0,390.68 234.5,389.99 235.0,389.29 235.5,388.57 236.0,387.83 236.5,387.08 237.0,386.32 237.5,385.54 238.0,384.74 238.5,383.93 239.0,383.10 239.5,382.26 240.0,381.40 240.5,380.52 241.0,379.62 241.5,378.71 242.0,377.77 242.5,376.81 243.0,375.84 243.5,374.84 244.0,373.82 244.5,372.78 245.0,371.73 245.5,370.66 246.0,369.58 246.5,368.50 247.0,367.43 247.5,366.38 248.0,365.37 248.5,364.40 249.0,363.49 249.5,362.66 250.0,361.92 250.5,361.25 251.0,360.68 251.5,360.20 252.0,359.81 252.5,359.50 253.0,359.27 253.5,359.10 254.0,358.98 254.5,358.90 255.0,358.85 255.5,358.82 256.0,358.81 256.5,358.80 257.0,358.81 257.5,358.82 258.0,358.83 258.5,358.84 259.0,358.85 259.5,358.87 260.0,358.88 260.5,358.89 261.0,358.91 261.5,358.92 262.0,358.94 262.5,358.95 263.0,358.96 263.5,358.98 264.0,358.99 264.5,359.01 265.0,359.02 265.5,359.03 266.0,359.05 266.5,359.06 267.0,359.08 267.5,359.09 268.0,359.10 268.5,359.12 269.0,359.13 269.5,359.15 270.0,359.16 270.5,359.17 271.0,359.19 271.5,359.20 272.0,359.22 272.5,359.23 273.0,359.24 273.5,359.26 274.0,359.27 274.5,359.29 275.0,359.30 275.5,359.31 276.0,359.33 276.5,359.34 277.0,359.36 277.5,359.37 278.0,359.38 278.5,359.40 279.0,359.41 279.5,359.43 280.0,359.44 280.5,359.45 281.0,359.47 281.5,359.48 282.0,359.50 282.5,359.51 283.0,359.52 283.5,359.54 284.0,359.55 284.5,359.57 285.0,359.58 285.5,359.59 286.0,359.61 286.5,359.62 287.0,359.64 287.5,359.65 288.0,359.66 288.5,359.68 289.0,359.69 289.5,359.71 290.0,359.72 290.5,359.73 291.0,359.75 291.5,359.76 292.0,359.78 292.5,359.79 293.0,359.80 293.5,359.82 294.0,359.83 294.5,359.85 295.0,359.86 295.5,359.87 296.0,359.89 296.5,359.90 297.0,359.92 297.5,359.93 298.0,359.94 298.5,359.96 299.0,359.97 299.5,359.99 300.0,360.00 300.5,359.94 301.0,359.89 301.5,359.83 302.0,359.78 302.5,359.72 303.0,359.67 303.5,359.61 304.0,359.56 304.5,359.50 305.0,359.45 305.5,359.39 306.0,359.34 306.5,359.28 307.0,359.23 307.5,359.17 308.0,359.12 308.5,359.06 309.0,359.01 309.5,358.95 310.0,358.90 310.5,358.84 311.0,358.79 311.5,358.73 312.0,358.68 312.5,358.62 313.0,358.57 313.5,358.51 314.0,358.46 314.5,358.40 315.0,358.35 315.5,358.29 316.0,358.24 316.5,358.19 317.0,358.13 317.5,358.07 318.0,358.02 318.5,357.96 319.0,357.91 319.5,357.85 320.0,357.80 320.5,357.68 321.0,357.56 321.5,357.43 322.0,357.31 322.5,357.19 323.0,357.07 323.5,356.94 324.0,356.82 324.5,356.70 325.0,356.58 325.5,356.46 326.0,356.33 326.5,356.21 327.0,356.09 327.5,355.97 328.0,355.84 328.5,355.72 329.0,355.60 329.5,355.48 330.0,355.36 330.5,355.23 331.0,355.11 331.5,354.99 332.0,354.87 332.5,354.74 333.0,354.62 333.5,354.50 334.0,354.38 334.5,354.26 335.0,354.13 335.5,354.01 336.0,353.89 336.5,353.77 337.0,353.64 337.5,353.52 338.0,353.40 338.5,353.40 339.0,353.40 339.5,353.40 340.0,353.40 340.5,353.40 341.0,353.40 341.5,353.40 342.0,353.40 342.5,353.40 343.0,353.40 343.5,353.40 344.0,353.40 344.5,353.40 345.0,353.40 345.5,353.40 346.0,353.40 346.5,353.40 347.0,353.40 347.5,353.40 348.0,353.40 348.5,353.40 349.0,353.40 349.5,353.40 350.0,353.40 350.5,353.40 351.0,353.40 351.5,353.40 352.0,353.40 352.5,353.40 353.0,353.40 353.5,353.40 354.0,353.40 354.5,353.40 355.0,353.40 355.5,353.40 356.0,353.40 356.5,353.40 357.0,353.40 357.5,353.40 358.0,353.40 358.5,353.40 359.0,353.40 359.5,353.40 360.0,353.40 360.5,353.40 361.0,353.40 361.5,353.40 361.9,353.40" class="fL"/>
<polyline points="410.5,48.4 413.3,48.4 413.3,35.3 415.4,35.3 415.4,39.1 417.6,39.1 417.6,38.0 419.8,38.0 419.8,31.7 422.2,31.7 422.2,45.1 424.1,45.1 424.1,39.7 426.3,39.7 426.3,41.3 429.0,41.3 429.0,39.7 432.3,39.7 432.3,40.2 434.5,40.2 434.5,41.8 437.2,41.8 437.2,45.7 439.3,45.7 439.3,34.2 441.5,34.2 441.5,41.8 443.7,41.8 443.7,39.7 447.5,39.7 447.5,40.2 449.1,40.2 449.1,44.6 450.8,44.6 450.8,46.2 456.7,46.2 456.7,41.3 459.5,41.3 459.5,46.2 461.1,46.2 461.1,51.1 463.3,51.1 463.3,42.4 465.4,42.4 465.4,39.7 467.6,39.7 467.6,44.6 469.2,44.6 469.2,36.4 472.0,36.4 472.0,40.8 474.1,40.8 474.1,41.8 476.3,41.8 476.3,44.6 478.5,44.6 478.5,40.2 480.7,40.2 480.7,38.0 482.3,38.0 482.3,45.1 485.0,45.1 485.0,40.8 487.7,40.8 487.7,52.5 489.3,52.5 489.3,42.5 491.0,42.5 491.0,40.8 495.2,40.8 495.2,46.6 496.8,46.6 496.8,50.0 499.3,50.0 499.3,63.3 501.8,63.3 501.8,50.8 504.3,50.8 504.3,56.6 506.8,56.6 506.8,59.1 509.3,59.1 509.3,64.1 511.8,64.1 511.8,64.9 513.5,64.9 513.5,60.0 516.0,60.0 516.0,71.6 519.3,71.6 519.3,70.0 521.8,70.0 521.8,74.9 523.4,74.9 523.4,84.9 525.9,84.9 525.9,78.3 528.4,78.3 528.4,81.6 530.1,81.6 530.1,83.3 532.6,83.3 532.6,84.9 535.1,84.9 535.1,83.3 537.6,83.3 537.6,84.9 540.1,84.9 540.1,94.9 541.7,94.9 541.7,84.1 543.4,84.1 543.4,91.6 545.9,91.6 545.9,96.6 548.4,96.6 548.4,99.1 550.9,99.1 550.9,94.1 552.6,94.1 552.6,89.9 554.2,89.9 554.2,104.0 556.2,104.0 556.2,114.0 558.9,114.0 558.9,97.4 560.5,97.4 560.5,99.1 563.6,99.1 563.6,103.1 566.6,103.1 566.6,96.6 569.5,96.6 569.5,100.2 571.6,100.2 571.6,108.2 573.8,108.2 573.8,79.8 576.0,79.8 576.0,100.2 578.2,100.2 578.2,101.7 580.4,101.7 580.4,106.0 582.6,106.0 582.6,112.6 584.7,112.6 584.7,90.8 586.5,90.8 586.5,84.9 589.1,84.9 589.1,93.7 591.3,93.7 591.3,87.8 594.2,87.8 594.2,82.8 596.4,82.8 596.4,88.6 598.1,88.6 598.1,96.6 600.0,96.6 600.0,88.6 602.2,88.6 602.2,95.1 604.4,95.1 604.4,87.8 607.3,87.8 607.3,86.4 609.5,86.4 609.5,91.5 611.7,91.5 611.7,75.5 613.9,75.5 613.9,76.2 617.5,76.2 617.5,76.2 619.7,76.2 619.7,69.7 621.1,69.7 621.1,64.6 623.3,64.6 623.3,58.0 625.5,58.0 625.5,60.9 627.7,60.9 627.7,50.7 629.9,50.7 629.9,55.1 632.1,55.1 632.1,55.8 634.2,55.8 634.2,61.6 636.4,61.6 636.4,58.7 638.6,58.7 638.6,51.7 640.8,51.7 640.8,54.5 643.0,54.5 643.0,43.7 645.9,43.7 645.9,43.0 648.7,43.0 648.7,42.3 651.6,42.3 651.6,33.6 654.5,33.6 654.5,45.9 657.4,45.9 657.4,44.5 660.3,44.5 660.3,40.9 662.4,40.9 662.4,35.8 665.3,35.8 665.3,45.2 667.5,45.2 667.5,38.7 668.9,38.7 668.9,58.1 671.8,58.1 671.8,53.1 673.2,53.1 673.2,44.5 675.4,44.5 675.4,35.8 678.3,35.8 678.3,38.7 680.4,38.7 680.4,48.1 682.6,48.1 682.6,43.0 684.8,43.0 684.8,45.2 686.9,45.2 686.9,38.7 689.1,38.7 689.1,56.7 691.2,56.7 691.2,30.8 693.4,30.8 693.4,44.5 696.3,44.5 696.3,45.9 699.2,45.9 699.2,40.1 701.3,40.1 701.3,45.9 704.2,45.9 704.2,30.5 706.4,30.5 706.4,39.4 708.5,39.4 708.5,48.1 713.6,48.1 713.6,48.8 716.5,48.8 716.5,47.3 719.3,47.3 719.3,38.7 722.9,38.7 722.9,41.6 725.8,41.6 725.8,41.6 728.0,41.6 728.0,37.2 730.1,37.2 730.1,40.9 732.3,40.9 732.3,39.4 734.5,39.4 734.5,46.6 735.3,46.6" class="dR"/>
<polyline points="410.5,39.50 411.0,39.50 411.5,39.50 412.0,39.50 412.5,39.50 413.0,39.50 413.5,39.50 414.0,39.50 414.5,39.50 415.0,39.50 415.5,39.50 416.0,39.50 416.5,39.50 417.0,39.50 417.5,39.50 418.0,39.50 418.5,39.50 419.0,39.50 419.5,39.50 420.0,39.50 420.5,39.50 421.0,39.50 421.5,39.50 422.0,39.50 422.5,39.50 423.0,39.50 423.5,39.50 424.0,39.50 424.5,39.50 425.0,39.50 425.5,39.50 426.0,39.50 426.5,39.50 427.0,39.50 427.5,39.50 428.0,39.50 428.5,39.50 429.0,39.50 429.5,39.50 430.0,39.50 430.5,39.50 431.0,39.50 431.5,39.50 432.0,39.50 432.5,39.50 433.0,39.50 433.5,39.50 434.0,39.50 434.5,39.50 435.0,39.50 435.5,39.50 436.0,39.50 436.5,39.50 437.0,39.50 437.5,39.50 438.0,39.50 438.5,39.50 439.0,39.50 439.5,39.50 440.0,39.50 440.5,39.50 441.0,39.50 441.5,39.50 442.0,39.50 442.5,39.50 443.0,39.50 443.5,39.50 444.0,39.50 444.5,39.50 445.0,39.50 445.5,39.50 446.0,39.50 446.5,39.50 447.0,39.50 447.5,39.50 448.0,39.50 448.5,39.50 449.0,39.50 449.5,39.50 450.0,39.50 450.5,39.50 451.0,39.50 451.5,39.50 452.0,39.50 452.5,39.50 453.0,39.50 453.5,39.50 454.0,39.50 454.5,39.50 455.0,39.50 455.5,39.50 456.0,39.50 456.5,39.50 457.0,39.50 457.5,39.50 458.0,39.50 458.5,39.50 459.0,39.50 459.5,39.50 460.0,39.50 460.5,39.50 461.0,39.50 461.5,39.50 462.0,39.50 462.5,39.50 463.0,39.50 463.5,39.50 464.0,39.50 464.5,39.50 465.0,39.51 465.5,39.51 466.0,39.51 466.5,39.51 467.0,39.51 467.5,39.52 468.0,39.52 468.5,39.52 469.0,39.53 469.5,39.53 470.0,39.54 470.5,39.55 471.0,39.56 471.5,39.57 472.0,39.59 472.5,39.60 473.0,39.62 473.5,39.64 474.0,39.67 474.5,39.69 475.0,39.73 475.5,39.76 476.0,39.80 476.5,39.85 477.0,39.91 477.5,39.97 478.0,40.03 478.5,40.11 479.0,40.19 479.5,40.29 480.0,40.39 480.5,40.51 481.0,40.63 481.5,40.77 482.0,40.92 482.5,41.09 483.0,41.27 483.5,41.46 484.0,41.67 484.5,41.89 485.0,42.13 485.5,42.39 486.0,42.67 486.5,42.96 487.0,43.27 487.5,43.59 488.0,43.94 488.5,44.30 489.0,44.68 489.5,45.08 490.0,45.49 490.5,45.92 491.0,46.37 491.5,46.83 492.0,47.30 492.5,47.79 493.0,48.30 493.5,48.81 494.0,49.34 494.5,49.88 495.0,50.43 495.5,50.99 496.0,51.55 496.5,52.12 497.0,52.70 497.5,53.29 498.0,53.87 498.5,54.46 499.0,55.06 499.5,55.65 500.0,56.25 500.5,56.84 501.0,57.44 501.5,58.03 502.0,58.62 502.5,59.21 503.0,59.79 503.5,60.38 504.0,60.95 504.5,61.53 505.0,62.09 505.5,62.66 506.0,63.22 506.5,63.77 507.0,64.32 507.5,64.86 508.0,65.40 508.5,65.93 509.0,66.45 509.5,66.97 510.0,67.48 510.5,67.98 511.0,68.48 511.5,68.98 512.0,69.47 512.5,69.95 513.0,70.42 513.5,70.89 514.0,71.36 514.5,71.82 515.0,72.27 515.5,72.72 516.0,73.16 516.5,73.60 517.0,74.03 517.5,74.45 518.0,74.87 518.5,75.29 519.0,75.70 519.5,76.10 520.0,76.50 520.5,76.90 521.0,77.29 521.5,77.67 522.0,78.05 522.5,78.43 523.0,78.80 523.5,79.17 524.0,79.53 524.5,79.88 525.0,80.24 525.5,80.58 526.0,80.93 526.5,81.26 527.0,81.60 527.5,81.93 528.0,82.25 528.5,82.57 529.0,82.89 529.5,83.20 530.0,83.51 530.5,83.81 531.0,84.11 531.5,84.41 532.0,84.70 532.5,84.98 533.0,85.27 533.5,85.55 534.0,85.82 534.5,86.09 535.0,86.36 535.5,86.62 536.0,86.88 536.5,87.13 537.0,87.38 537.5,87.63 538.0,87.87 538.5,88.11 539.0,88.34 539.5,88.57 540.0,88.80 540.5,89.02 541.0,89.24 541.5,89.45 542.0,89.66 542.5,89.87 543.0,90.07 543.5,90.27 544.0,90.47 544.5,90.66 545.0,90.85 545.5,91.03 546.0,91.21 546.5,91.39 547.0,91.56 547.5,91.73 548.0,91.89 548.5,92.05 549.0,92.21 549.5,92.37 550.0,92.52 550.5,92.66 551.0,92.81 551.5,92.94 552.0,93.08 552.5,93.21 553.0,93.34 553.5,93.47 554.0,93.59 554.5,93.70 555.0,93.82 555.5,93.93 556.0,94.03 556.5,94.14 557.0,94.24 557.5,94.33 558.0,94.42 558.5,94.51 559.0,94.60 559.5,94.68 560.0,94.75 560.5,94.83 561.0,94.90 561.5,94.97 562.0,95.03 562.5,95.09 563.0,95.14 563.5,95.20 564.0,95.25 564.5,95.29 565.0,95.33 565.5,95.37 566.0,95.41 566.5,95.44 567.0,95.46 567.5,95.49 568.0,95.51 568.5,95.52 569.0,95.54 569.5,95.55 570.0,95.55 570.5,95.56 571.0,95.56 571.5,95.55 572.0,95.54 572.5,95.53 573.0,95.52 573.5,95.50 574.0,95.47 574.5,95.45 575.0,95.42 575.5,95.39 576.0,95.35 576.5,95.31 577.0,95.27 577.5,95.22 578.0,95.17 578.5,95.11 579.0,95.06 579.5,94.99 580.0,94.93 580.5,94.86 581.0,94.79 581.5,94.71 582.0,94.63 582.5,94.55 583.0,94.46 583.5,94.37 584.0,94.28 584.5,94.18 585.0,94.08 585.5,93.97 586.0,93.87 586.5,93.75 587.0,93.64 587.5,93.52 588.0,93.40 588.5,93.27 589.0,93.14 589.5,93.01 590.0,92.87 590.5,92.73 591.0,92.58 591.5,92.43 592.0,92.28 592.5,92.12 593.0,91.96 593.5,91.80 594.0,91.63 594.5,91.46 595.0,91.29 595.5,91.11 596.0,90.93 596.5,90.74 597.0,90.55 597.5,90.36 598.0,90.16 598.5,89.96 599.0,89.75 599.5,89.54 600.0,89.33 600.5,89.11 601.0,88.89 601.5,88.67 602.0,88.44 602.5,88.21 603.0,87.97 603.5,87.73 604.0,87.49 604.5,87.24 605.0,86.99 605.5,86.73 606.0,86.47 606.5,86.21 607.0,85.94 607.5,85.67 608.0,85.39 608.5,85.11 609.0,84.82 609.5,84.54 610.0,84.24 610.5,83.95 611.0,83.64 611.5,83.34 612.0,83.03 612.5,82.71 613.0,82.39 613.5,82.07 614.0,81.74 614.5,81.41 615.0,81.08 615.5,80.73 616.0,80.39 616.5,80.04 617.0,79.68 617.5,79.33 618.0,78.96 618.5,78.59 619.0,78.22 619.5,77.84 620.0,77.46 620.5,77.07 621.0,76.68 621.5,76.28 622.0,75.88 622.5,75.47 623.0,75.06 623.5,74.64 624.0,74.22 624.5,73.79 625.0,73.35 625.5,72.91 626.0,72.47 626.5,72.02 627.0,71.56 627.5,71.10 628.0,70.63 628.5,70.16 629.0,69.68 629.5,69.19 630.0,68.70 630.5,68.21 631.0,67.70 631.5,67.19 632.0,66.68 632.5,66.16 633.0,65.63 633.5,65.10 634.0,64.56 634.5,64.01 635.0,63.46 635.5,62.91 636.0,62.34 636.5,61.78 637.0,61.21 637.5,60.63 638.0,60.05 638.5,59.47 639.0,58.88 639.5,58.29 640.0,57.70 640.5,57.10 641.0,56.51 641.5,55.91 642.0,55.32 642.5,54.72 643.0,54.13 643.5,53.54 644.0,52.96 644.5,52.38 645.0,51.80 645.5,51.23 646.0,50.67 646.5,50.12 647.0,49.58 647.5,49.05 648.0,48.52 648.5,48.01 649.0,47.52 649.5,47.04 650.0,46.57 650.5,46.11 651.0,45.68 651.5,45.26 652.0,44.85 652.5,44.47 653.0,44.10 653.5,43.74 654.0,43.41 654.5,43.09 655.0,42.79 655.5,42.51 656.0,42.24 656.5,42.00 657.0,41.76 657.5,41.55 658.0,41.35 658.5,41.16 659.0,40.99 659.5,40.84 660.0,40.69 660.5,40.56 661.0,40.44 661.5,40.33 662.0,40.24 662.5,40.15 663.0,40.07 663.5,40.00 664.0,39.93 664.5,39.88 665.0,39.83 665.5,39.78 666.0,39.74 666.5,39.71 667.0,39.68 667.5,39.65 668.0,39.63 668.5,39.61 669.0,39.59 669.5,39.58 670.0,39.56 670.5,39.55 671.0,39.55 671.5,39.54 672.0,39.53 672.5,39.53 673.0,39.52 673.5,39.52 674.0,39.51 674.5,39.51 675.0,39.51 675.5,39.51 676.0,39.51 676.5,39.50 677.0,39.50 677.5,39.50 678.0,39.50 678.5,39.50 679.0,39.50 679.5,39.50 680.0,39.50 680.5,39.50 681.0,39.50 681.5,39.50 682.0,39.50 682.5,39.50 683.0,39.50 683.5,39.50 684.0,39.50 684.5,39.50 685.0,39.50 685.5,39.50 686.0,39.50 686.5,39.50 687.0,39.50 687.5,39.50 688.0,39.50 688.5,39.50 689.0,39.50 689.5,39.50 690.0,39.50 690.5,39.50 691.0,39.50 691.5,39.50 692.0,39.50 692.5,39.50 693.0,39.50 693.5,39.50 694.0,39.50 694.5,39.50 695.0,39.50 695.5,39.50 696.0,39.50 696.5,39.50 697.0,39.50 697.5,39.50 698.0,39.50 698.5,39.50 699.0,39.50 699.5,39.50 700.0,39.50 700.5,39.50 701.0,39.50 701.5,39.50 702.0,39.50 702.5,39.50 703.0,39.50 703.5,39.50 704.0,39.50 704.5,39.50 705.0,39.50 705.5,39.50 706.0,39.50 706.5,39.50 707.0,39.50 707.5,39.50 708.0,39.50 708.5,39.50 709.0,39.50 709.5,39.50 710.0,39.50 710.5,39.50 711.0,39.50 711.5,39.50 712.0,39.50 712.5,39.50 713.0,39.50 713.5,39.50 714.0,39.50 714.5,39.50 715.0,39.50 715.5,39.50 716.0,39.50 716.5,39.50 717.0,39.50 717.5,39.50 718.0,39.50 718.5,39.50 719.0,39.50 719.5,39.50 720.0,39.50 720.5,39.50 721.0,39.50 721.5,39.50 722.0,39.50 722.5,39.50 723.0,39.50 723.5,39.50 724.0,39.50 724.5,39.50 725.0,39.50 725.5,39.50 726.0,39.50 726.5,39.50 727.0,39.50 727.5,39.50 728.0,39.50 728.5,39.50 729.0,39.50 729.5,39.50 730.0,39.50 730.5,39.50 731.0,39.50 731.5,39.50 732.0,39.50 732.5,39.50 733.0,39.50 733.5,39.50 734.0,39.50 734.5,39.50 735.0,39.50 735.2,39.50" class="fR"/>
<polyline points="410.5,169.7 411.2,169.7 411.2,174.2 413.3,174.2 413.3,168.4 415.3,168.4 415.3,170.1 417.3,170.1 417.3,174.2 419.8,174.2 419.8,166.4 421.4,166.4 421.4,167.2 423.4,167.2 423.4,164.8 428.3,164.8 428.3,172.9 432.0,172.9 432.0,174.6 434.4,174.6 434.4,165.6 436.9,165.6 436.9,170.9 441.0,170.9 441.0,172.1 443.4,172.1 443.4,170.5 447.5,170.5 447.5,179.0 449.9,179.0 449.9,168.9 452.0,168.9 452.0,162.3 454.4,162.3 454.4,173.7 456.5,173.7 456.5,175.0 458.9,175.0 458.9,169.7 462.2,169.7 462.2,164.8 465.4,164.8 465.4,171.7 467.1,171.7 467.1,167.2 468.0,167.2 468.0,167.6 471.1,167.6 471.1,170.7 473.0,170.7 473.0,167.0 475.5,167.0 475.5,172.0 478.0,172.0 478.0,170.1 479.8,170.1 479.8,178.2 482.3,178.2 482.3,172.0 484.2,172.0 484.2,169.5 486.1,169.5 486.1,168.2 488.6,168.2 488.6,169.5 492.9,169.5 492.9,172.0 495.4,172.0 495.4,169.5 497.3,169.5 497.3,167.0 499.8,167.0 499.8,170.1 503.5,170.1 503.5,165.7 505.4,165.7 505.4,174.4 508.5,174.4 508.5,167.6 511.0,167.6 511.0,158.2 512.9,158.2 512.9,166.3 515.4,166.3 515.4,162.0 519.1,162.0 519.1,195.3 521.2,195.3 521.2,207.5 523.7,207.5 523.7,201.2 525.6,201.2 525.6,212.4 528.1,212.4 528.1,205.0 530.0,205.0 530.0,210.0 531.8,210.0 531.8,214.9 533.1,214.9 533.1,218.7 535.0,218.7 535.0,224.9 536.2,224.9 536.2,227.4 538.1,227.4 538.1,233.6 539.9,233.6 539.9,241.1 541.8,241.1 541.8,238.6 543.1,238.6 543.1,243.6 545.5,243.6 545.5,244.9 547.4,244.9 547.4,247.4 548.7,247.4 548.7,248.9 550.9,248.9 550.9,249.6 553.8,249.6 553.8,255.5 556.0,255.5 556.0,257.7 558.2,257.7 558.2,262.8 560.4,262.8 560.4,269.3 562.6,269.3 562.6,274.4 564.7,274.4 564.7,282.4 567.7,282.4 567.7,270.0 569.8,270.0 569.8,264.9 571.3,264.9 571.3,269.3 572.8,269.3 572.8,275.1 574.9,275.1 574.9,263.5 577.1,263.5 577.1,259.8 579.3,259.8 579.3,261.3 581.5,261.3 581.5,256.9 583.7,256.9 583.7,256.2 586.6,256.2 586.6,254.7 588.8,254.7 588.8,251.8 591.7,251.8 591.7,246.0 593.9,246.0 593.9,240.2 596.0,240.2 596.0,244.6 598.2,244.6 598.2,240.9 600.4,240.9 600.4,246.0 602.6,246.0 602.6,235.8 603.5,235.8 603.5,229.9 606.0,229.9 606.0,225.7 608.5,225.7 608.5,222.4 611.0,222.4 611.0,216.6 613.5,216.6 613.5,209.9 615.1,209.9 615.1,201.6 616.8,201.6 616.8,197.4 619.3,197.4 619.3,193.3 621.0,193.3 621.0,186.6 622.6,186.6 622.6,182.5 625.1,182.5 625.1,183.3 627.6,183.3 627.6,180.0 629.3,180.0 629.3,175.8 631.8,175.8 631.8,170.0 635.9,170.0 635.9,175.0 638.4,175.0 638.4,179.1 640.9,179.1 640.9,173.3 643.4,173.3 643.4,169.2 645.9,169.2 645.9,167.5 647.6,167.5 647.6,160.0 649.2,160.0 649.2,165.0 650.0,165.0 650.0,165.5 651.8,165.5 651.8,170.8 654.7,170.8 654.7,172.5 656.4,172.5 656.4,176.0 658.2,176.0 658.2,182.5 660.5,182.5 660.5,170.2 662.3,170.2 662.3,164.3 664.6,164.3 664.6,170.2 666.4,170.2 666.4,172.5 668.7,172.5 668.7,171.4 671.0,171.4 671.0,171.9 673.4,171.9 673.4,170.8 675.1,170.8 675.1,172.5 677.5,172.5 677.5,169.6 679.2,169.6 679.2,166.1 681.5,166.1 681.5,166.7 683.9,166.7 683.9,164.9 686.2,164.9 686.2,167.9 688.0,167.9 688.0,176.0 690.3,176.0 690.3,159.1 692.1,159.1 692.1,171.4 693.8,171.4 693.8,169.0 696.1,169.0 696.1,180.1 697.9,180.1 697.9,170.2 700.8,170.2 700.8,162.0 703.2,162.0 703.2,177.2 705.5,177.2 705.5,172.5 707.8,172.5 707.8,174.3 709.6,174.3 709.6,167.3 711.9,167.3 711.9,171.4 714.3,171.4 714.3,178.4 716.6,178.4 716.6,174.9 718.9,174.9 718.9,170.8 721.3,170.8 721.3,179.5 724.2,179.5 724.2,178.4 727.1,178.4 727.1,175.4 730.6,175.4 730.6,170.2 732.4,170.2 732.4,166.7 734.1,166.7 734.1,164.3 735.3,164.3" class="dR"/>
<polyline points="410.5,170.10 411.0,170.10 411.5,170.10 412.0,170.10 412.5,170.10 413.0,170.10 413.5,170.10 414.0,170.10 414.5,170.10 415.0,170.10 415.5,170.10 416.0,170.10 416.5,170.10 417.0,170.10 417.5,170.10 418.0,170.10 418.5,170.10 419.0,170.10 419.5,170.10 420.0,170.10 420.5,170.10 421.0,170.10 421.5,170.10 422.0,170.10 422.5,170.10 423.0,170.10 423.5,170.10 424.0,170.10 424.5,170.10 425.0,170.10 425.5,170.10 426.0,170.10 426.5,170.10 427.0,170.10 427.5,170.10 428.0,170.10 428.5,170.10 429.0,170.10 429.5,170.10 430.0,170.10 430.5,170.10 431.0,170.10 431.5,170.10 432.0,170.10 432.5,170.10 433.0,170.10 433.5,170.10 434.0,170.10 434.5,170.10 435.0,170.10 435.5,170.10 436.0,170.10 436.5,170.10 437.0,170.10 437.5,170.10 438.0,170.10 438.5,170.10 439.0,170.10 439.5,170.10 440.0,170.10 440.5,170.10 441.0,170.10 441.5,170.10 442.0,170.10 442.5,170.10 443.0,170.10 443.5,170.10 444.0,170.10 444.5,170.10 445.0,170.10 445.5,170.10 446.0,170.10 446.5,170.10 447.0,170.10 447.5,170.10 448.0,170.10 448.5,170.10 449.0,170.10 449.5,170.10 450.0,170.10 450.5,170.10 451.0,170.10 451.5,170.10 452.0,170.10 452.5,170.10 453.0,170.10 453.5,170.10 454.0,170.10 454.5,170.10 455.0,170.10 455.5,170.10 456.0,170.10 456.5,170.10 457.0,170.10 457.5,170.10 458.0,170.10 458.5,170.10 459.0,170.10 459.5,170.10 460.0,170.10 460.5,170.10 461.0,170.10 461.5,170.10 462.0,170.10 462.5,170.10 463.0,170.10 463.5,170.10 464.0,170.10 464.5,170.10 465.0,170.10 465.5,170.10 466.0,170.10 466.5,170.10 467.0,170.10 467.5,170.10 468.0,170.10 468.5,170.10 469.0,170.10 469.5,170.10 470.0,170.10 470.5,170.10 471.0,170.10 471.5,170.10 472.0,170.10 472.5,170.10 473.0,170.10 473.5,170.10 474.0,170.10 474.5,170.10 475.0,170.10 475.5,170.10 476.0,170.10 476.5,170.10 477.0,170.10 477.5,170.10 478.0,170.10 478.5,170.10 479.0,170.10 479.5,170.10 480.0,170.10 480.5,170.10 481.0,170.10 481.5,170.10 482.0,170.10 482.5,170.10 483.0,170.10 483.5,170.10 484.0,170.10 484.5,170.10 485.0,170.10 485.5,170.10 486.0,170.10 486.5,170.10 487.0,170.10 487.5,170.10 488.0,170.10 488.5,170.10 489.0,170.10 489.5,170.10 490.0,170.10 490.5,170.10 491.0,170.10 491.5,170.10 492.0,170.10 492.5,170.10 493.0,170.10 493.5,170.10 494.0,170.10 494.5,170.10 495.0,170.10 495.5,170.10 496.0,170.10 496.5,170.11 497.0,170.11 497.5,170.11 498.0,170.11 498.5,170.12 499.0,170.12 499.5,170.13 500.0,170.14 500.5,170.15 501.0,170.16 501.5,170.18 502.0,170.20 502.5,170.23 503.0,170.26 503.5,170.29 504.0,170.34 504.5,170.39 505.0,170.45 505.5,170.52 506.0,170.61 506.5,170.70 507.0,170.82 507.5,170.95 508.0,171.10 508.5,171.28 509.0,171.48 509.5,171.70 510.0,171.95 510.5,172.24 511.0,172.56 511.5,172.91 512.0,173.30 512.5,173.73 513.0,174.20 513.5,174.71 514.0,175.27 514.5,175.87 515.0,176.52 515.5,177.21 516.0,177.96 516.5,178.74 517.0,179.58 517.5,180.46 518.0,181.38 518.5,182.34 519.0,183.35 519.5,184.39 520.0,185.47 520.5,186.59 521.0,187.73 521.5,188.91 522.0,190.10 522.5,191.32 523.0,192.56 523.5,193.82 524.0,195.08 524.5,196.36 525.0,197.64 525.5,198.93 526.0,200.22 526.5,201.51 527.0,202.79 527.5,204.07 528.0,205.34 528.5,206.61 529.0,207.86 529.5,209.10 530.0,210.33 530.5,211.55 531.0,212.74 531.5,213.93 532.0,215.10 532.5,216.25 533.0,217.38 533.5,218.50 534.0,219.60 534.5,220.69 535.0,221.75 535.5,222.80 536.0,223.83 536.5,224.84 537.0,225.84 537.5,226.82 538.0,227.78 538.5,228.73 539.0,229.65 539.5,230.57 540.0,231.46 540.5,232.34 541.0,233.20 541.5,234.05 542.0,234.88 542.5,235.70 543.0,236.49 543.5,237.28 544.0,238.05 544.5,238.80 545.0,239.54 545.5,240.26 546.0,240.97 546.5,241.66 547.0,242.33 547.5,243.00 548.0,243.64 548.5,244.28 549.0,244.90 549.5,245.50 550.0,246.09 550.5,246.67 551.0,247.23 551.5,247.77 552.0,248.31 552.5,248.82 553.0,249.33 553.5,249.82 554.0,250.29 554.5,250.76 555.0,251.20 555.5,251.64 556.0,252.06 556.5,252.46 557.0,252.86 557.5,253.24 558.0,253.60 558.5,253.95 559.0,254.29 559.5,254.62 560.0,254.93 560.5,255.22 561.0,255.51 561.5,255.78 562.0,256.03 562.5,256.28 563.0,256.51 563.5,256.72 564.0,256.92 564.5,257.11 565.0,257.29 565.5,257.45 566.0,257.60 566.5,257.74 567.0,257.86 567.5,257.97 568.0,258.06 568.5,258.14 569.0,258.21 569.5,258.27 570.0,258.31 570.5,258.34 571.0,258.35 571.5,258.36 572.0,258.35 572.5,258.32 573.0,258.28 573.5,258.23 574.0,258.17 574.5,258.09 575.0,258.00 575.5,257.89 576.0,257.78 576.5,257.64 577.0,257.50 577.5,257.34 578.0,257.17 578.5,256.99 579.0,256.79 579.5,256.58 580.0,256.35 580.5,256.11 581.0,255.86 581.5,255.59 582.0,255.32 582.5,255.02 583.0,254.72 583.5,254.40 584.0,254.06 584.5,253.72 585.0,253.35 585.5,252.98 586.0,252.59 586.5,252.19 587.0,251.77 587.5,251.34 588.0,250.90 588.5,250.44 589.0,249.97 589.5,249.49 590.0,248.99 590.5,248.47 591.0,247.94 591.5,247.40 592.0,246.85 592.5,246.28 593.0,245.69 593.5,245.09 594.0,244.48 594.5,243.85 595.0,243.21 595.5,242.55 596.0,241.88 596.5,241.19 597.0,240.49 597.5,239.77 598.0,239.04 598.5,238.29 599.0,237.53 599.5,236.75 600.0,235.95 600.5,235.14 601.0,234.32 601.5,233.48 602.0,232.62 602.5,231.74 603.0,230.85 603.5,229.95 604.0,229.03 604.5,228.09 605.0,227.13 605.5,226.16 606.0,225.16 606.5,224.16 607.0,223.13 607.5,222.09 608.0,221.03 608.5,219.95 609.0,218.86 609.5,217.74 610.0,216.61 610.5,215.47 611.0,214.30 611.5,213.13 612.0,211.93 612.5,210.72 613.0,209.50 613.5,208.26 614.0,207.01 614.5,205.75 615.0,204.48 615.5,203.20 616.0,201.92 616.5,200.63 617.0,199.34 617.5,198.06 618.0,196.77 618.5,195.49 619.0,194.22 619.5,192.96 620.0,191.72 620.5,190.49 621.0,189.29 621.5,188.10 622.0,186.95 622.5,185.83 623.0,184.74 623.5,183.68 624.0,182.66 624.5,181.68 625.0,180.75 625.5,179.85 626.0,179.01 626.5,178.20 627.0,177.45 627.5,176.74 628.0,176.07 628.5,175.46 629.0,174.89 629.5,174.36 630.0,173.87 630.5,173.43 631.0,173.03 631.5,172.67 632.0,172.34 632.5,172.04 633.0,171.78 633.5,171.55 634.0,171.34 634.5,171.16 635.0,171.00 635.5,170.86 636.0,170.74 636.5,170.64 637.0,170.55 637.5,170.47 638.0,170.41 638.5,170.35 639.0,170.31 639.5,170.27 640.0,170.24 640.5,170.21 641.0,170.19 641.5,170.17 642.0,170.16 642.5,170.14 643.0,170.13 643.5,170.13 644.0,170.12 644.5,170.12 645.0,170.11 645.5,170.11 646.0,170.11 646.5,170.10 647.0,170.10 647.5,170.10 648.0,170.10 648.5,170.10 649.0,170.10 649.5,170.10 650.0,170.10 650.5,170.10 651.0,170.10 651.5,170.10 652.0,170.10 652.5,170.10 653.0,170.10 653.5,170.10 654.0,170.10 654.5,170.10 655.0,170.10 655.5,170.10 656.0,170.10 656.5,170.10 657.0,170.10 657.5,170.10 658.0,170.10 658.5,170.10 659.0,170.10 659.5,170.10 660.0,170.10 660.5,170.10 661.0,170.10 661.5,170.10 662.0,170.10 662.5,170.10 663.0,170.10 663.5,170.10 664.0,170.10 664.5,170.10 665.0,170.10 665.5,170.10 666.0,170.10 666.5,170.10 667.0,170.10 667.5,170.10 668.0,170.10 668.5,170.10 669.0,170.10 669.5,170.10 670.0,170.10 670.5,170.10 671.0,170.10 671.5,170.10 672.0,170.10 672.5,170.10 673.0,170.10 673.5,170.10 674.0,170.10 674.5,170.10 675.0,170.10 675.5,170.10 676.0,170.10 676.5,170.10 677.0,170.10 677.5,170.10 678.0,170.10 678.5,170.10 679.0,170.10 679.5,170.10 680.0,170.10 680.5,170.10 681.0,170.10 681.5,170.10 682.0,170.10 682.5,170.10 683.0,170.10 683.5,170.10 684.0,170.10 684.5,170.10 685.0,170.10 685.5,170.10 686.0,170.10 686.5,170.10 687.0,170.10 687.5,170.10 688.0,170.10 688.5,170.10 689.0,170.10 689.5,170.10 690.0,170.10 690.5,170.10 691.0,170.10 691.5,170.10 692.0,170.10 692.5,170.10 693.0,170.10 693.5,170.10 694.0,170.10 694.5,170.10 695.0,170.10 695.5,170.10 696.0,170.10 696.5,170.10 697.0,170.10 697.5,170.10 698.0,170.10 698.5,170.10 699.0,170.10 699.5,170.10 700.0,170.10 700.5,170.10 701.0,170.10 701.5,170.10 702.0,170.10 702.5,170.10 703.0,170.10 703.5,170.10 704.0,170.10 704.5,170.10 705.0,170.10 705.5,170.10 706.0,170.10 706.5,170.10 707.0,170.10 707.5,170.10 708.0,170.10 708.5,170.10 709.0,170.10 709.5,170.10 710.0,170.10 710.5,170.10 711.0,170.10 711.5,170.10 712.0,170.10 712.5,170.10 713.0,170.10 713.5,170.10 714.0,170.10 714.5,170.10 715.0,170.10 715.5,170.10 716.0,170.10 716.5,170.10 717.0,170.10 717.5,170.10 718.0,170.10 718.5,170.10 719.0,170.10 719.5,170.10 720.0,170.10 720.5,170.10 721.0,170.10 721.5,170.10 722.0,170.10 722.5,170.10 723.0,170.10 723.5,170.10 724.0,170.10 724.5,170.10 725.0,170.10 725.5,170.10 726.0,170.10 726.5,170.10 727.0,170.10 727.5,170.10 728.0,170.10 728.5,170.10 729.0,170.10 729.5,170.10 730.0,170.10 730.5,170.10 731.0,170.10 731.5,170.10 732.0,170.10 732.5,170.10 733.0,170.10 733.5,170.10 734.0,170.10 734.5,170.10 735.0,170.10 735.2,170.10" class="fR"/>
<polyline points="410.5,320.5 411.5,320.5 411.5,328.0 413.0,328.0 413.0,329.5 416.0,329.5 416.0,341.3 418.2,341.3 418.2,336.5 419.8,336.5 419.8,334.8 422.0,334.8 422.0,333.5 423.0,333.5 423.0,322.3 425.2,322.3 425.2,325.6 427.4,325.6 427.4,328.3 431.2,328.3 431.2,328.8 435.0,328.8 435.0,332.1 439.3,332.1 439.3,327.2 440.4,327.2 440.4,325.6 442.6,325.6 442.6,326.7 444.8,326.7 444.8,325.0 446.4,325.0 446.4,321.8 448.6,321.8 448.6,334.3 450.8,334.3 450.8,330.5 452.9,330.5 452.9,337.0 455.7,337.0 455.7,329.4 457.3,329.4 457.3,321.2 459.5,321.2 459.5,326.1 461.6,326.1 461.6,334.8 466.5,334.8 466.5,321.2 468.7,321.2 468.7,328.3 473.0,328.3 473.0,327.8 474.7,327.8 474.7,324.0 476.8,324.0 476.8,332.1 481.2,332.1 481.2,328.8 483.4,328.8 483.4,326.1 485.7,326.1 485.7,330.8 489.0,330.8 489.0,327.5 491.5,327.5 491.5,321.7 494.8,321.7 494.8,331.6 496.5,331.6 496.5,348.3 499.8,348.3 499.8,345.0 503.1,345.0 503.1,350.8 505.6,350.8 505.6,354.9 509.8,354.9 509.8,363.3 512.3,363.3 512.3,361.6 515.6,361.6 515.6,364.1 518.1,364.1 518.1,369.9 520.6,369.9 520.6,368.3 523.1,368.3 523.1,364.9 525.6,364.9 525.6,376.6 528.1,376.6 528.1,388.2 530.6,388.2 530.6,394.9 532.3,394.9 532.3,401.2 534.0,401.2 534.0,393.2 535.7,393.2 535.7,379.4 538.0,379.4 538.0,391.5 539.7,391.5 539.7,397.5 540.9,397.5 540.9,406.3 542.6,406.3 542.6,402.9 544.3,402.9 544.3,399.5 546.0,399.5 546.0,396.6 548.3,396.6 548.3,415.5 550.6,415.5 550.6,413.2 552.9,413.2 552.9,414.3 555.2,414.3 555.2,411.5 557.5,411.5 557.5,414.9 559.2,414.9 559.2,417.2 561.5,417.2 561.5,423.5 563.8,423.5 563.8,418.9 565.5,418.9 565.5,404.6 567.8,404.6 567.8,406.3 570.0,406.3 570.0,409.2 572.3,409.2 572.3,409.8 574.6,409.8 574.6,411.5 576.9,411.5 576.9,417.8 579.2,417.8 579.2,412.6 581.5,412.6 581.5,417.2 583.2,417.2 583.2,404.0 585.5,404.0 585.5,409.2 588.4,409.2 588.4,406.3 590.6,406.3 590.6,405.2 592.4,405.2 592.4,407.5 594.6,407.5 594.6,400.6 596.8,400.6 596.8,408.0 598.7,408.0 598.7,402.4 601.5,402.4 601.5,398.7 604.3,398.7 604.3,392.1 607.1,392.1 607.1,383.7 609.9,383.7 609.9,392.1 611.8,392.1 611.8,380.9 613.7,380.9 613.7,391.2 616.5,391.2 616.5,389.3 619.3,389.3 619.3,386.5 622.1,386.5 622.1,383.7 625.8,383.7 625.8,386.5 628.6,386.5 628.6,377.1 631.5,377.1 631.5,370.6 634.3,370.6 634.3,354.6 636.1,354.6 636.1,347.2 638.9,347.2 638.9,350.9 641.8,350.9 641.8,355.6 643.6,355.6 643.6,346.2 646.4,346.2 646.4,338.7 649.2,338.7 649.2,339.7 652.1,339.7 652.1,325.6 653.9,325.6 653.9,326.6 657.6,326.6 657.6,325.6 660.9,325.6 660.9,324.0 663.6,324.0 663.6,326.7 665.8,326.7 665.8,331.6 669.0,331.6 669.0,334.3 672.3,334.3 672.3,329.9 674.5,329.9 674.5,331.6 676.1,331.6 676.1,337.0 678.8,337.0 678.8,331.0 681.0,331.0 681.0,332.7 683.2,332.7 683.2,327.8 685.3,327.8 685.3,331.6 687.5,331.6 687.5,326.7 689.2,326.7 689.2,320.7 691.9,320.7 691.9,318.5 694.0,318.5 694.0,327.2 696.2,327.2 696.2,335.4 698.4,335.4 698.4,334.3 700.6,334.3 700.6,327.2 702.7,327.2 702.7,325.6 704.4,325.6 704.4,337.0 707.1,337.0 707.1,329.4 709.3,329.4 709.3,325.0 711.4,325.0 711.4,342.4 713.6,342.4 713.6,319.6 715.2,319.6 715.2,325.6 717.4,325.6 717.4,334.3 720.1,334.3 720.1,328.3 722.3,328.3 722.3,330.5 724.5,330.5 724.5,344.6 726.7,344.6 726.7,337.5 728.3,337.5 728.3,330.5 731.0,330.5 731.0,332.1 733.2,332.1 733.2,334.8 734.8,334.8 734.8,323.9 735.3,323.9" class="dR"/>
<polyline points="410.5,330.13 411.0,330.07 411.5,330.00 412.0,329.93 412.5,329.87 413.0,329.80 413.5,329.73 414.0,329.67 414.5,329.60 415.0,329.53 415.5,329.47 416.0,329.40 416.5,329.33 417.0,329.27 417.5,329.20 418.0,329.13 418.5,329.07 419.0,329.00 419.5,328.93 420.0,328.87 420.5,328.80 421.0,328.73 421.5,328.67 422.0,328.60 422.5,328.53 423.0,328.47 423.5,328.40 424.0,328.33 424.5,328.27 425.0,328.20 425.5,328.20 426.0,328.20 426.5,328.20 427.0,328.20 427.5,328.20 428.0,328.20 428.5,328.20 429.0,328.20 429.5,328.20 430.0,328.20 430.5,328.20 431.0,328.20 431.5,328.20 432.0,328.20 432.5,328.20 433.0,328.20 433.5,328.20 434.0,328.20 434.5,328.20 435.0,328.20 435.5,328.20 436.0,328.20 436.5,328.20 437.0,328.20 437.5,328.20 438.0,328.20 438.5,328.20 439.0,328.20 439.5,328.20 440.0,328.20 440.5,328.20 441.0,328.20 441.5,328.20 442.0,328.20 442.5,328.20 443.0,328.20 443.5,328.20 444.0,328.20 444.5,328.20 445.0,328.20 445.5,328.20 446.0,328.20 446.5,328.20 447.0,328.20 447.5,328.20 448.0,328.20 448.5,328.20 449.0,328.20 449.5,328.20 450.0,328.20 450.5,328.20 451.0,328.20 451.5,328.20 452.0,328.20 452.5,328.20 453.0,328.20 453.5,328.20 454.0,328.20 454.5,328.20 455.0,328.20 455.5,328.20 456.0,328.20 456.5,328.20 457.0,328.20 457.5,328.20 458.0,328.20 458.5,328.20 459.0,328.20 459.5,328.20 460.0,328.20 460.5,328.20 461.0,328.20 461.5,328.20 462.0,328.20 462.5,328.20 463.0,328.20 463.5,328.20 464.0,328.20 464.5,328.20 465.0,328.20 465.5,328.20 466.0,328.20 466.5,328.20 467.0,328.20 467.5,328.21 468.0,328.21 468.5,328.21 469.0,328.21 469.5,328.21 470.0,328.22 470.5,328.22 471.0,328.23 471.5,328.23 472.0,328.24 472.5,328.25 473.0,328.26 473.5,328.28 474.0,328.29 474.5,328.31 475.0,328.33 475.5,328.36 476.0,328.39 476.5,328.43 477.0,328.47 477.5,328.51 478.0,328.57 478.5,328.63 479.0,328.70 479.5,328.78 480.0,328.87 480.5,328.97 481.0,329.09 481.5,329.22 482.0,329.36 482.5,329.52 483.0,329.69 483.5,329.88 484.0,330.10 484.5,330.33 485.0,330.58 485.5,330.85 486.0,331.15 486.5,331.47 487.0,331.81 487.5,332.18 488.0,332.58 488.5,333.00 489.0,333.44 489.5,333.92 490.0,334.41 490.5,334.94 491.0,335.49 491.5,336.06 492.0,336.66 492.5,337.28 493.0,337.93 493.5,338.59 494.0,339.28 494.5,339.99 495.0,340.72 495.5,341.46 496.0,342.22 496.5,342.99 497.0,343.78 497.5,344.58 498.0,345.39 498.5,346.21 499.0,347.04 499.5,347.87 500.0,348.71 500.5,349.55 501.0,350.40 501.5,351.24 502.0,352.09 502.5,352.93 503.0,353.78 503.5,354.62 504.0,355.46 504.5,356.29 505.0,357.12 505.5,357.95 506.0,358.77 506.5,359.58 507.0,360.39 507.5,361.19 508.0,361.99 508.5,362.77 509.0,363.55 509.5,364.32 510.0,365.09 510.5,365.85 511.0,366.60 511.5,367.34 512.0,368.07 512.5,368.80 513.0,369.52 513.5,370.23 514.0,370.93 514.5,371.62 515.0,372.31 515.5,372.99 516.0,373.66 516.5,374.33 517.0,374.99 517.5,375.64 518.0,376.28 518.5,376.91 519.0,377.54 519.5,378.16 520.0,378.78 520.5,379.38 521.0,379.98 521.5,380.58 522.0,381.16 522.5,381.74 523.0,382.31 523.5,382.88 524.0,383.44 524.5,383.99 525.0,384.53 525.5,385.07 526.0,385.60 526.5,386.13 527.0,386.65 527.5,387.16 528.0,387.67 528.5,388.16 529.0,388.66 529.5,389.14 530.0,389.62 530.5,390.10 531.0,390.56 531.5,391.02 532.0,391.48 532.5,391.93 533.0,392.37 533.5,392.80 534.0,393.23 534.5,393.66 535.0,394.07 535.5,394.48 536.0,394.89 536.5,395.29 537.0,395.68 537.5,396.06 538.0,396.44 538.5,396.82 539.0,397.19 539.5,397.55 540.0,397.90 540.5,398.25 541.0,398.60 541.5,398.94 542.0,399.27 542.5,399.59 543.0,399.91 543.5,400.23 544.0,400.54 544.5,400.84 545.0,401.13 545.5,401.42 546.0,401.71 546.5,401.99 547.0,402.26 547.5,402.53 548.0,402.79 548.5,403.04 549.0,403.29 549.5,403.53 550.0,403.77 550.5,404.00 551.0,404.23 551.5,404.45 552.0,404.66 552.5,404.87 553.0,405.07 553.5,405.27 554.0,405.46 554.5,405.65 555.0,405.83 555.5,406.00 556.0,406.17 556.5,406.33 557.0,406.49 557.5,406.64 558.0,406.78 558.5,406.92 559.0,407.05 559.5,407.18 560.0,407.30 560.5,407.42 561.0,407.53 561.5,407.63 562.0,407.73 562.5,407.83 563.0,407.91 563.5,408.00 564.0,408.07 564.5,408.14 565.0,408.21 565.5,408.27 566.0,408.32 566.5,408.37 567.0,408.41 567.5,408.45 568.0,408.48 568.5,408.50 569.0,408.52 569.5,408.54 570.0,408.54 570.5,408.55 571.0,408.54 571.5,408.53 572.0,408.52 572.5,408.50 573.0,408.47 573.5,408.44 574.0,408.40 574.5,408.36 575.0,408.31 575.5,408.26 576.0,408.20 576.5,408.13 577.0,408.06 577.5,407.98 578.0,407.90 578.5,407.81 579.0,407.71 579.5,407.61 580.0,407.51 580.5,407.40 581.0,407.28 581.5,407.16 582.0,407.03 582.5,406.89 583.0,406.75 583.5,406.61 584.0,406.45 584.5,406.30 585.0,406.13 585.5,405.96 586.0,405.79 586.5,405.61 587.0,405.42 587.5,405.23 588.0,405.03 588.5,404.83 589.0,404.62 589.5,404.40 590.0,404.18 590.5,403.96 591.0,403.72 591.5,403.49 592.0,403.24 592.5,402.99 593.0,402.73 593.5,402.47 594.0,402.20 594.5,401.93 595.0,401.65 595.5,401.37 596.0,401.07 596.5,400.78 597.0,400.47 597.5,400.16 598.0,399.85 598.5,399.53 599.0,399.20 599.5,398.87 600.0,398.53 600.5,398.18 601.0,397.83 601.5,397.48 602.0,397.11 602.5,396.74 603.0,396.37 603.5,395.99 604.0,395.60 604.5,395.21 605.0,394.81 605.5,394.40 606.0,393.99 606.5,393.57 607.0,393.15 607.5,392.72 608.0,392.28 608.5,391.84 609.0,391.39 609.5,390.93 610.0,390.47 610.5,390.00 611.0,389.53 611.5,389.05 612.0,388.56 612.5,388.07 613.0,387.56 613.5,387.06 614.0,386.54 614.5,386.02 615.0,385.50 615.5,384.97 616.0,384.43 616.5,383.88 617.0,383.33 617.5,382.77 618.0,382.20 618.5,381.63 619.0,381.05 619.5,380.46 620.0,379.86 620.5,379.26 621.0,378.65 621.5,378.04 622.0,377.42 622.5,376.79 623.0,376.15 623.5,375.51 624.0,374.85 624.5,374.20 625.0,373.53 625.5,372.86 626.0,372.17 626.5,371.49 627.0,370.79 627.5,370.08 628.0,369.37 628.5,368.65 629.0,367.93 629.5,367.19 630.0,366.45 630.5,365.70 631.0,364.94 631.5,364.17 632.0,363.40 632.5,362.62 633.0,361.83 633.5,361.03 634.0,360.23 634.5,359.42 635.0,358.61 635.5,357.79 636.0,356.96 636.5,356.13 637.0,355.29 637.5,354.45 638.0,353.61 638.5,352.77 639.0,351.92 639.5,351.07 640.0,350.23 640.5,349.38 641.0,348.54 641.5,347.70 642.0,346.87 642.5,346.05 643.0,345.23 643.5,344.42 644.0,343.62 644.5,342.84 645.0,342.07 645.5,341.31 646.0,340.57 646.5,339.85 647.0,339.14 647.5,338.46 648.0,337.80 648.5,337.15 649.0,336.54 649.5,335.94 650.0,335.37 650.5,334.83 651.0,334.31 651.5,333.82 652.0,333.35 652.5,332.91 653.0,332.50 653.5,332.11 654.0,331.74 654.5,331.40 655.0,331.09 655.5,330.80 656.0,330.53 656.5,330.28 657.0,330.05 657.5,329.84 658.0,329.65 658.5,329.48 659.0,329.33 659.5,329.19 660.0,329.06 660.5,328.95 661.0,328.85 661.5,328.76 662.0,328.69 662.5,328.62 663.0,328.56 663.5,328.50 664.0,328.46 664.5,328.42 665.0,328.38 665.5,328.36 666.0,328.33 666.5,328.31 667.0,328.29 667.5,328.27 668.0,328.26 668.5,328.25 669.0,328.24 669.5,328.23 670.0,328.23 670.5,328.22 671.0,328.22 671.5,328.21 672.0,328.21 672.5,328.21 673.0,328.21 673.5,328.21 674.0,328.20 674.5,328.20 675.0,328.20 675.5,328.20 676.0,328.20 676.5,328.20 677.0,328.20 677.5,328.20 678.0,328.20 678.5,328.20 679.0,328.20 679.5,328.20 680.0,328.20 680.5,328.20 681.0,328.20 681.5,328.20 682.0,328.20 682.5,328.20 683.0,328.20 683.5,328.20 684.0,328.20 684.5,328.20 685.0,328.20 685.5,328.20 686.0,328.20 686.5,328.20 687.0,328.20 687.5,328.20 688.0,328.20 688.5,328.20 689.0,328.20 689.5,328.20 690.0,328.20 690.5,328.20 691.0,328.20 691.5,328.20 692.0,328.20 692.5,328.20 693.0,328.20 693.5,328.20 694.0,328.20 694.5,328.20 695.0,328.20 695.5,328.20 696.0,328.20 696.5,328.20 697.0,328.20 697.5,328.20 698.0,328.20 698.5,328.20 699.0,328.20 699.5,328.20 700.0,328.20 700.5,328.20 701.0,328.20 701.5,328.20 702.0,328.20 702.5,328.20 703.0,328.20 703.5,328.20 704.0,328.20 704.5,328.20 705.0,328.20 705.5,328.20 706.0,328.20 706.5,328.20 707.0,328.20 707.5,328.20 708.0,328.20 708.5,328.20 709.0,328.20 709.5,328.20 710.0,328.20 710.5,328.20 711.0,328.20 711.5,328.20 712.0,328.20 712.5,328.20 713.0,328.20 713.5,328.20 714.0,328.20 714.5,328.20 715.0,328.20 715.5,328.20 716.0,328.20 716.5,328.20 717.0,328.20 717.5,328.20 718.0,328.20 718.5,328.20 719.0,328.20 719.5,328.20 720.0,328.20 720.5,328.20 721.0,328.20 721.5,328.20 722.0,328.20 722.5,328.20 723.0,328.20 723.5,328.20 724.0,328.20 724.5,328.20 725.0,328.20 725.5,328.20 726.0,328.20 726.5,328.20 727.0,328.20 727.5,328.20 728.0,328.20 728.5,328.20 729.0,328.20 729.5,328.20 730.0,328.20 730.5,328.20 731.0,328.20 731.5,328.20 732.0,328.20 732.5,328.20 733.0,328.20 733.5,328.20 734.0,328.20 734.5,328.20 735.0,328.20 735.2,328.20" class="fR"/>
<path class="frL" d="M38.0 2.7H362.0V454.6H38.0ZM38.0 148.7H362.0M38.0 303.0H362.0"/>
<path class="frR" d="M410.5 3.1H735.3V454.4H410.5ZM410.5 148.3H735.3M410.5 302.7H735.3"/>
<text x="32.8" y="7.60" class="yl">1.02</text>
<text x="32.8" y="56.27" class="yl">1.00</text>
<text x="32.8" y="104.93" class="yl">0.98</text>
<text x="32.8" y="153.60" class="yl">0.96</text>
<text x="32.8" y="192.17" class="yl">1.00</text>
<text x="32.8" y="230.75" class="yl">0.98</text>
<text x="32.8" y="269.32" class="yl">0.96</text>
<text x="32.8" y="307.90" class="yl">0.94</text>
<text x="32.8" y="328.57" class="yl">1.01</text>
<text x="32.8" y="356.14" class="yl">1.00</text>
<text x="32.8" y="383.70" class="yl">0.99</text>
<text x="32.8" y="411.26" class="yl">0.98</text>
<text x="32.8" y="438.83" class="yl">0.97</text>
<text x="404.5" y="44.30" class="yl">1.00</text>
<text x="404.5" y="80.60" class="yl">0.98</text>
<text x="404.5" y="116.90" class="yl">0.96</text>
<text x="404.5" y="153.20" class="yl">0.94</text>
<text x="404.5" y="175.26" class="yl">1.00</text>
<text x="404.5" y="219.37" class="yl">0.96</text>
<text x="404.5" y="263.49" class="yl">0.92</text>
<text x="404.5" y="307.60" class="yl">0.88</text>
<text x="404.5" y="332.88" class="yl">1.00</text>
<text x="404.5" y="383.45" class="yl">0.96</text>
<text x="404.5" y="434.02" class="yl">0.92</text>
<text x="61.14" y="467.6" class="xl">5046</text>
<text x="107.43" y="467.6" class="xl">5048</text>
<text x="153.71" y="467.6" class="xl">5050</text>
<text x="200.00" y="467.6" class="xl">5052</text>
<text x="246.29" y="467.6" class="xl">5054</text>
<text x="292.57" y="467.6" class="xl">5056</text>
<text x="338.86" y="467.6" class="xl">5058</text>
<text x="200.00" y="478.9" class="xt">Wavelength (Å)</text>
<text x="432.15" y="467.6" class="xl">4478</text>
<text x="518.77" y="467.6" class="xl">4480</text>
<text x="605.38" y="467.6" class="xl">4482</text>
<text x="691.99" y="467.6" class="xl">4484</text>
<text x="572.90" y="478.9" class="xt">Wavelength (Å)</text>
<text transform="translate(7.9,75.70) rotate(-90)" class="yt">Normalized Intensity</text>
<text transform="translate(7.9,225.85) rotate(-90)" class="yt">Normalized Intensity</text>
<text transform="translate(7.9,378.80) rotate(-90)" class="yt">Normalized Intensity</text>
<text transform="translate(201.6,15.0) scale(1,1.12)" class="ti">C I 5052.17 Å</text>
<text transform="translate(567.3,17.1) scale(1,1.12)" class="ti">Mg II 4481 Å</text>
<text x="46.0" y="138.9" class="sl">Lambda Boo, v sin i = 123 km s<tspan class="sup" dx="0.2" dy="-4.4">-1</tspan></text>
<text x="43.7" y="289.1" class="sl">29 Cyg, v sin i = 80 km s<tspan class="sup" dx="0.2" dy="-4.4">-1</tspan></text>
<text x="42.9" y="440.8" class="sl">Pi<tspan class="sup" dy="-4.2">1</tspan><tspan dy="4.2"> Ori, v sin i = 120 km s</tspan><tspan class="sup" dx="0.2" dy="-4.4">-1</tspan></text>
<text x="416.9" y="138.9" class="sl">Lambda Boo, v sin i = 123 km s<tspan class="sup" dx="0.2" dy="-4.4">-1</tspan></text>
<text x="414.9" y="288.6" class="sl">29 Cyg, v sin i = 80 km s<tspan class="sup" dx="0.2" dy="-4.4">-1</tspan></text>
<text x="416.9" y="439.7" class="sl">Pi<tspan class="sup" dy="-4.2">1</tspan><tspan dy="4.2"> Ori, v sin i = 120 km s</tspan><tspan class="sup" dx="0.2" dy="-4.4">-1</tspan></text>
</svg>
</body></html>
